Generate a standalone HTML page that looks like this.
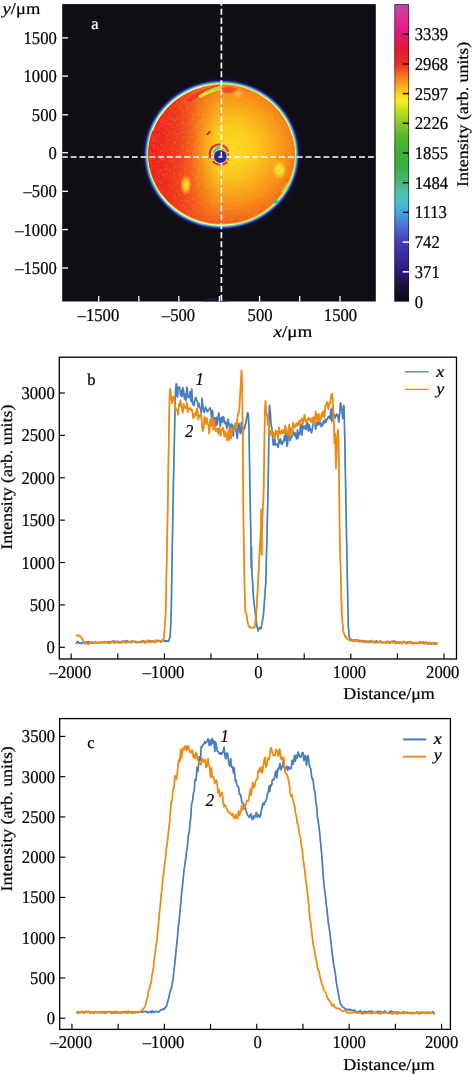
<!DOCTYPE html>
<html lang="en"><head><meta charset="utf-8"><title>Figure</title>
<style>
html,body{margin:0;padding:0;background:#fff;}
body{width:472px;height:1074px;overflow:hidden;}
svg{display:block;font-family:"Liberation Serif", "DejaVu Serif", serif;text-rendering:geometricPrecision;}
</style></head><body>
<svg width="472" height="1074" viewBox="0 0 472 1074">
<rect width="472" height="1074" fill="#fff"/>
<defs>
<radialGradient id="rim" cx="0.5" cy="0.5" r="0.5">
<stop offset="0.90" stop-color="#f03a1e"/>
<stop offset="0.932" stop-color="#f4a040"/>
<stop offset="0.942" stop-color="#f6f27a"/>
<stop offset="0.951" stop-color="#9ce45a"/>
<stop offset="0.961" stop-color="#40c8c0"/>
<stop offset="0.972" stop-color="#3c5ce0"/>
<stop offset="0.985" stop-color="#2e1c90"/>
<stop offset="1" stop-color="#1a1040" stop-opacity="0.2"/>
</radialGradient>
<radialGradient id="halo" cx="0.5" cy="0.5" r="0.5">
<stop offset="0.9" stop-color="#2a1a78" stop-opacity="0.9"/>
<stop offset="1" stop-color="#15102c" stop-opacity="0"/>
</radialGradient>
<radialGradient id="field" gradientUnits="userSpaceOnUse" cx="231" cy="149" r="80">
<stop offset="0" stop-color="#fcda28"/>
<stop offset="0.28" stop-color="#fbcc20"/>
<stop offset="0.48" stop-color="#f9ae1c"/>
<stop offset="0.66" stop-color="#f7921a"/>
<stop offset="0.82" stop-color="#f4741c"/>
<stop offset="0.94" stop-color="#f1581e"/>
<stop offset="1" stop-color="#ef4a20"/>
</radialGradient>
<linearGradient id="redL" gradientUnits="userSpaceOnUse" x1="146" y1="0" x2="218" y2="0">
<stop offset="0" stop-color="#ee1e20" stop-opacity="1"/>
<stop offset="0.25" stop-color="#ee2820" stop-opacity="0.98"/>
<stop offset="0.45" stop-color="#ef381e" stop-opacity="0.95"/>
<stop offset="0.64" stop-color="#f0481e" stop-opacity="0.72"/>
<stop offset="0.82" stop-color="#f25a1c" stop-opacity="0.32"/>
<stop offset="1" stop-color="#f2601c" stop-opacity="0"/>
</linearGradient>
<filter id="grain" x="0" y="0" width="1" height="1" color-interpolation-filters="sRGB">
<feTurbulence type="fractalNoise" baseFrequency="0.38" numOctaves="2" seed="7" result="n"/>
<feColorMatrix in="n" type="matrix" values="0 0 0 0 1  0 0 0 0 0.85  0 0 0 0 0.1  1.6 0 0 0 -0.72"/>
</filter>
<radialGradient id="spotY"><stop offset="0" stop-color="#fbea3a"/><stop offset="0.5" stop-color="#fad02a" stop-opacity="0.8"/><stop offset="1" stop-color="#f9b020" stop-opacity="0"/></radialGradient>
<radialGradient id="spotG"><stop offset="0" stop-color="#c8e83a"/><stop offset="0.4" stop-color="#f6e634" stop-opacity="0.9"/><stop offset="1" stop-color="#f9b020" stop-opacity="0"/></radialGradient>
<radialGradient id="spotP"><stop offset="0" stop-color="#fbc85a"/><stop offset="1" stop-color="#f8a030" stop-opacity="0"/></radialGradient>
<radialGradient id="hole"><stop offset="0" stop-color="#2a1e8c"/><stop offset="0.60" stop-color="#30249a"/><stop offset="0.70" stop-color="#3a6fe0"/><stop offset="0.78" stop-color="#58d070"/><stop offset="0.86" stop-color="#f0e040"/><stop offset="0.93" stop-color="#f04028"/><stop offset="1" stop-color="#f04028" stop-opacity="0"/></radialGradient>
<linearGradient id="cbar" x1="0" y1="1" x2="0" y2="0">
<stop offset="0.005" stop-color="#0c0a10"/>
<stop offset="0.043" stop-color="#1a1030"/>
<stop offset="0.102" stop-color="#2e1a78"/>
<stop offset="0.14" stop-color="#3a2496"/>
<stop offset="0.199" stop-color="#4040b8"/>
<stop offset="0.237" stop-color="#4a60c8"/>
<stop offset="0.276" stop-color="#4888d8"/>
<stop offset="0.296" stop-color="#40a8e0"/>
<stop offset="0.335" stop-color="#48c0d0"/>
<stop offset="0.373" stop-color="#50c0a0"/>
<stop offset="0.402" stop-color="#48b878"/>
<stop offset="0.451" stop-color="#38b040"/>
<stop offset="0.504" stop-color="#3cb030"/>
<stop offset="0.558" stop-color="#58b828"/>
<stop offset="0.601" stop-color="#90c828"/>
<stop offset="0.645" stop-color="#c8e020"/>
<stop offset="0.674" stop-color="#f4f020"/>
<stop offset="0.701" stop-color="#fcd020"/>
<stop offset="0.732" stop-color="#f8a020"/>
<stop offset="0.772" stop-color="#f06020"/>
<stop offset="0.799" stop-color="#e83020"/>
<stop offset="0.849" stop-color="#e01838"/>
<stop offset="0.899" stop-color="#e01870"/>
<stop offset="0.946" stop-color="#e02898"/>
<stop offset="0.994" stop-color="#c048a0"/>
</linearGradient>
<clipPath id="clipA"><rect x="62.2" y="4.1" width="313.6" height="297.4"/></clipPath>
<clipPath id="clipD"><ellipse cx="221.6" cy="154" rx="73.4" ry="68.9"/></clipPath>
</defs>
<rect x="62.2" y="4.1" width="313.60" height="297.40" fill="#100e15"/>
<g clip-path="url(#clipA)">
<ellipse cx="214" cy="301.5" rx="13" ry="3.5" fill="#1c1550" opacity="0.7"/>
<ellipse cx="221.6" cy="154.5" rx="81" ry="78" fill="url(#halo)"/>
<ellipse cx="221.6" cy="154.5" rx="78.2" ry="75" fill="url(#rim)"/>
<ellipse cx="221.6" cy="154" rx="73.2" ry="68.7" fill="url(#field)"/>
<g clip-path="url(#clipD)">
<rect x="146" y="84" width="152" height="142" fill="url(#redL)"/>
<rect x="146" y="84" width="152" height="142" filter="url(#grain)" opacity="0.38"/>
<path d="M186,100 Q203,88 221,84 L221,88 Q205,91 190,102 Z" fill="#ee2c2a" opacity="0.8"/>
<path d="M198,96 Q209,88.6 221.5,85.6 L221.5,89.6 Q210,92.2 200.5,98 Z" fill="#ece838"/>
<path d="M205,91.8 Q213,88.2 221,86.6 L221,88.6 Q213,90 206.5,93.2 Z" fill="#9fdc40"/>
<ellipse cx="229" cy="90" rx="8" ry="3" fill="#ee3a24" opacity="0.75"/>
<ellipse cx="238" cy="94" rx="7.5" ry="5.5" fill="url(#spotP)"/>
<ellipse cx="186" cy="185" rx="6" ry="10.5" fill="url(#spotY)"/>
<ellipse cx="279.5" cy="170" rx="8" ry="10.5" fill="url(#spotG)"/>
<path d="M282,192 Q286,187 288,183" stroke="#b8e040" stroke-width="2" fill="none" opacity="0.9"/>
</g>
<ellipse cx="275.5" cy="201.5" rx="2.6" ry="2" fill="#44c46a"/>
<path d="M152.4,130.4 A73.6,70.6 0 0 1 202.5,86.3" stroke="#fffef0" stroke-width="1.3" fill="none" opacity="0.75"/>
<path d="M161.3,195 A73.6,70.6 0 0 0 234.4,224" stroke="#fffef0" stroke-width="1.1" fill="none" opacity="0.7"/>
<path d="M258.4,93.4 A73.6,70.6 0 0 1 292.7,136.2" stroke="#fffef0" stroke-width="1.0" fill="none" opacity="0.5"/>
<path d="M207.2,134.3 L209.8,131.8" stroke="#c8141e" stroke-width="1.6" stroke-linecap="round"/>
<path d="M210.3,157.5 Q208.6,150.5 213,146.6 Q216.5,144 220.6,144.3" stroke="#e8243c" stroke-width="2.1" fill="none" stroke-linecap="round"/>
<path d="M222.8,145.4 Q226.6,147 228,151" stroke="#ea2a50" stroke-width="1.9" fill="none" stroke-linecap="round"/>
<path d="M228.4,153.5 Q229.2,157 228.2,160" stroke="#f0602a" stroke-width="1.2" fill="none" stroke-linecap="round"/>
<path d="M213.6,162 Q219.5,167 226.6,162.6" stroke="#ea2a3c" stroke-width="2" fill="none" stroke-linecap="round"/>
<circle cx="220.3" cy="156.4" r="8.2" fill="url(#hole)"/>
<path d="M212.6,153.5 Q212.8,149.6 215.8,147.6" stroke="#ece44a" stroke-width="1.8" fill="none" stroke-linecap="round"/>
<path d="M213.8,151.8 Q215,148.6 218.6,147.2" stroke="#40c4e4" stroke-width="2.2" fill="none" stroke-linecap="round"/>
<path d="M216.2,147.9 Q218.6,146.4 221.4,146.6" stroke="#66d658" stroke-width="2" fill="none" stroke-linecap="round"/>
<circle cx="219.4" cy="162.6" r="1" fill="#48c8e8"/>
<line x1="62.2" y1="156.9" x2="214" y2="156.9" stroke="#fff" stroke-width="1.5" stroke-dasharray="5.9 2.85" stroke-dashoffset="0.3"/>
<line x1="225.55" y1="156.9" x2="375.8" y2="156.9" stroke="#fff" stroke-width="1.5" stroke-dasharray="6 2.9"/>
<line x1="221.4" y1="-0.15" x2="221.4" y2="301.5" stroke="#fff" stroke-width="1.7" stroke-dasharray="6 2.94"/>
<circle cx="220.4" cy="156.7" r="6.2" fill="#2d2296"/>
<path d="M221.3,151.8 V157.4 M218.4,157 H222.6" stroke="#fff" stroke-width="1.35" fill="none"/>
</g>
<line x1="98.7" y1="301.5" x2="98.7" y2="296.0" stroke="#fff" stroke-width="1.3"/>
<line x1="138.8" y1="301.5" x2="138.8" y2="296.0" stroke="#fff" stroke-width="1.3"/>
<line x1="178.8" y1="301.5" x2="178.8" y2="296.0" stroke="#fff" stroke-width="1.3"/>
<line x1="219.4" y1="301.5" x2="219.4" y2="296.0" stroke="#fff" stroke-width="1.3"/>
<line x1="259.6" y1="301.5" x2="259.6" y2="296.0" stroke="#fff" stroke-width="1.3"/>
<line x1="299.7" y1="301.5" x2="299.7" y2="296.0" stroke="#fff" stroke-width="1.3"/>
<line x1="340.0" y1="301.5" x2="340.0" y2="296.0" stroke="#fff" stroke-width="1.3"/>
<line x1="62.2" y1="37.9" x2="68.0" y2="37.9" stroke="#fff" stroke-width="1.3"/>
<text transform="translate(56.80,43.80) scale(0.925,1)" font-size="18.0" text-anchor="end" fill="#000" stroke="#000" stroke-width="0.22">1500</text>
<line x1="62.2" y1="76.1" x2="68.0" y2="76.1" stroke="#fff" stroke-width="1.3"/>
<text transform="translate(56.80,82.00) scale(0.925,1)" font-size="18.0" text-anchor="end" fill="#000" stroke="#000" stroke-width="0.22">1000</text>
<line x1="62.2" y1="114.8" x2="68.0" y2="114.8" stroke="#fff" stroke-width="1.3"/>
<text transform="translate(56.80,120.70) scale(0.925,1)" font-size="18.0" text-anchor="end" fill="#000" stroke="#000" stroke-width="0.22">500</text>
<line x1="62.2" y1="152.7" x2="68.0" y2="152.7" stroke="#fff" stroke-width="1.3"/>
<text transform="translate(56.80,158.60) scale(0.925,1)" font-size="18.0" text-anchor="end" fill="#000" stroke="#000" stroke-width="0.22">0</text>
<line x1="62.2" y1="191.3" x2="68.0" y2="191.3" stroke="#fff" stroke-width="1.3"/>
<text transform="translate(56.80,197.20) scale(0.925,1)" font-size="18.0" text-anchor="end" fill="#000" stroke="#000" stroke-width="0.22">–500</text>
<line x1="62.2" y1="229.6" x2="68.0" y2="229.6" stroke="#fff" stroke-width="1.3"/>
<text transform="translate(56.80,235.50) scale(0.925,1)" font-size="18.0" text-anchor="end" fill="#000" stroke="#000" stroke-width="0.22">–1000</text>
<line x1="62.2" y1="268.0" x2="68.0" y2="268.0" stroke="#fff" stroke-width="1.3"/>
<text transform="translate(56.80,273.90) scale(0.925,1)" font-size="18.0" text-anchor="end" fill="#000" stroke="#000" stroke-width="0.22">–1500</text>
<text transform="translate(98.40,321.00) scale(0.925,1)" font-size="18.0" text-anchor="middle" fill="#000" stroke="#000" stroke-width="0.22">–1500</text>
<text transform="translate(178.50,321.00) scale(0.925,1)" font-size="18.0" text-anchor="middle" fill="#000" stroke="#000" stroke-width="0.22">–500</text>
<text transform="translate(260.10,321.00) scale(0.925,1)" font-size="18.0" text-anchor="middle" fill="#000" stroke="#000" stroke-width="0.22">500</text>
<text transform="translate(340.50,321.00) scale(0.925,1)" font-size="18.0" text-anchor="middle" fill="#000" stroke="#000" stroke-width="0.22">1500</text>
<text transform="translate(2.60,13.90) scale(1.115,1)" font-size="16.6" text-anchor="start" fill="#000" stroke="#000" stroke-width="0.22"><tspan font-style="italic">y</tspan>/μm</text>
<text transform="translate(273.50,337.20) scale(1.15,1)" font-size="16.6" text-anchor="start" fill="#000" stroke="#000" stroke-width="0.22"><tspan font-style="italic">x</tspan>/μm</text>
<text transform="translate(91.30,29.00) scale(1,1)" font-size="16.5" text-anchor="start" fill="#fff" stroke="#fff" stroke-width="0.22">a</text>
<rect x="394.4" y="4.1" width="14.6" height="297.40" fill="url(#cbar)"/>
<rect x="394.9" y="4.6" width="13.6" height="296.40" fill="none" stroke="#1a1020" stroke-opacity="0.55" stroke-width="1"/>
<text transform="translate(414.80,307.80) scale(0.925,1)" font-size="18.0" text-anchor="start" fill="#000" stroke="#000" stroke-width="0.22">0</text>
<line x1="402.8" y1="271.80" x2="409" y2="271.80" stroke="#fff" stroke-width="1.5"/>
<text transform="translate(414.80,277.70) scale(0.925,1)" font-size="18.0" text-anchor="start" fill="#000" stroke="#000" stroke-width="0.22">371</text>
<line x1="402.8" y1="242.10" x2="409" y2="242.10" stroke="#fff" stroke-width="1.5"/>
<text transform="translate(414.80,248.00) scale(0.925,1)" font-size="18.0" text-anchor="start" fill="#000" stroke="#000" stroke-width="0.22">742</text>
<line x1="402.8" y1="212.40" x2="409" y2="212.40" stroke="#111" stroke-width="1.5"/>
<text transform="translate(414.80,218.30) scale(0.925,1)" font-size="18.0" text-anchor="start" fill="#000" stroke="#000" stroke-width="0.22">1113</text>
<line x1="402.8" y1="182.70" x2="409" y2="182.70" stroke="#111" stroke-width="1.5"/>
<text transform="translate(414.80,188.60) scale(0.925,1)" font-size="18.0" text-anchor="start" fill="#000" stroke="#000" stroke-width="0.22">1484</text>
<line x1="402.8" y1="153.00" x2="409" y2="153.00" stroke="#111" stroke-width="1.5"/>
<text transform="translate(414.80,158.90) scale(0.925,1)" font-size="18.0" text-anchor="start" fill="#000" stroke="#000" stroke-width="0.22">1855</text>
<line x1="402.8" y1="123.30" x2="409" y2="123.30" stroke="#111" stroke-width="1.5"/>
<text transform="translate(414.80,129.20) scale(0.925,1)" font-size="18.0" text-anchor="start" fill="#000" stroke="#000" stroke-width="0.22">2226</text>
<line x1="402.8" y1="93.60" x2="409" y2="93.60" stroke="#111" stroke-width="1.5"/>
<text transform="translate(414.80,99.50) scale(0.925,1)" font-size="18.0" text-anchor="start" fill="#000" stroke="#000" stroke-width="0.22">2597</text>
<line x1="402.8" y1="63.90" x2="409" y2="63.90" stroke="#111" stroke-width="1.5"/>
<text transform="translate(414.80,69.80) scale(0.925,1)" font-size="18.0" text-anchor="start" fill="#000" stroke="#000" stroke-width="0.22">2968</text>
<line x1="402.8" y1="34.20" x2="409" y2="34.20" stroke="#111" stroke-width="1.5"/>
<text transform="translate(414.80,40.10) scale(0.925,1)" font-size="18.0" text-anchor="start" fill="#000" stroke="#000" stroke-width="0.22">3339</text>
<text transform="translate(467.6,114.4) rotate(-90) scale(1.115,1)" font-size="16.0" text-anchor="middle" fill="#000" stroke="#000" stroke-width="0.22">Intensity (arb. units)</text>
<polyline points="76.5,643.3 76.8,642.8 77.0,642.2 77.2,641.9 77.5,641.8 77.8,641.6 78.0,641.5 78.2,641.7 78.5,642.2 78.8,642.6 79.0,643.1 79.2,643.0 79.5,643.0 79.8,643.0 80.0,643.0 80.2,643.1 80.5,643.2 80.8,643.4 81.0,643.6 81.2,643.5 81.5,643.1 81.8,642.8 82.0,642.4 82.2,642.3 82.5,642.5 82.8,642.6 83.0,642.7 83.2,642.8 83.5,642.9 83.8,642.9 84.0,643.0 84.2,643.2 84.5,643.3 84.8,643.3 85.0,643.3 85.2,643.1 85.5,642.9 85.8,642.6 86.0,642.4 86.2,642.1 86.5,642.0 86.8,641.9 87.0,641.8 87.2,642.0 87.5,642.3 87.8,642.2 88.0,642.0 88.2,641.8 88.5,641.6 88.8,642.2 89.0,642.9 89.2,643.0 89.5,642.8 89.8,642.5 90.0,642.3 90.2,642.3 90.5,642.3 90.8,642.3 91.0,642.2 91.2,642.1 91.5,642.0 91.8,642.2 92.0,642.5 92.2,642.9 92.5,643.2 92.8,643.2 93.0,643.0 93.2,642.8 93.5,642.6 93.8,642.4 94.0,642.2 94.2,642.3 94.5,642.5 94.8,642.7 95.0,642.7 95.2,642.5 95.5,642.4 95.8,642.4 96.0,642.6 96.2,642.7 96.5,642.8 96.8,642.9 97.0,643.0 97.2,643.1 97.5,643.0 97.8,642.7 98.0,642.4 98.2,642.3 98.5,642.5 98.8,642.6 99.0,642.6 99.2,642.6 99.5,642.6 99.8,642.6 100.0,642.7 100.2,642.9 100.5,643.0 100.8,642.9 101.0,642.8 101.2,642.7 101.5,642.6 101.8,642.5 102.0,642.4 102.2,642.3 102.5,642.1 102.8,642.0 103.0,641.9 103.2,642.1 103.5,642.3 103.8,642.4 104.0,642.2 104.2,642.0 104.5,641.8 104.8,641.7 105.0,642.0 105.2,642.3 105.5,642.6 105.8,642.5 106.0,642.3 106.2,642.3 106.5,642.4 106.8,642.5 107.0,642.4 107.2,642.3 107.5,642.1 107.8,641.9 108.0,641.8 108.2,641.7 108.5,641.7 108.8,641.7 109.0,641.7 109.2,641.6 109.5,642.1 109.8,642.5 110.0,642.8 110.2,642.6 110.5,642.3 110.8,642.1 111.0,642.0 111.2,642.0 111.5,642.0 111.8,641.8 112.0,641.5 112.2,641.2 112.5,641.2 112.8,641.4 113.0,641.7 113.2,641.9 113.5,642.0 113.8,641.6 114.0,641.2 114.2,640.8 114.5,641.5 114.8,642.2 115.0,642.9 115.2,642.6 115.5,642.3 115.8,642.0 116.0,642.0 116.2,642.1 116.5,642.1 116.8,641.8 117.0,641.5 117.2,641.2 117.5,641.3 117.8,641.4 118.0,641.5 118.2,641.7 118.5,642.0 118.8,642.3 119.0,642.4 119.2,642.2 119.5,642.1 119.8,642.0 120.0,642.1 120.2,642.3 120.5,642.4 120.8,642.6 121.0,642.7 121.2,642.7 121.5,642.7 121.8,642.6 122.0,642.5 122.2,642.3 122.5,641.7 122.8,641.1 123.0,641.0 123.2,641.1 123.5,641.3 123.8,641.4 124.0,641.4 124.2,641.4 124.5,641.3 124.8,641.3 125.0,641.4 125.2,641.4 125.5,641.4 125.8,641.1 126.0,640.8 126.2,640.7 126.5,640.7 126.8,640.7 127.0,640.9 127.2,641.1 127.5,641.3 127.8,641.4 128.0,641.5 128.2,641.5 128.5,641.6 128.8,641.7 129.0,641.9 129.2,642.1 129.5,642.2 129.8,642.0 130.0,641.9 130.2,641.8 130.5,642.1 130.8,642.5 131.0,642.7 131.2,642.1 131.5,641.6 131.8,641.1 132.0,640.9 132.2,641.0 132.5,641.1 132.8,641.4 133.0,641.6 133.2,641.9 133.5,642.0 133.8,641.9 134.0,641.8 134.2,641.7 134.5,641.5 134.8,641.3 135.0,641.5 135.2,641.7 135.5,642.0 135.8,642.3 136.0,642.4 136.2,642.4 136.5,642.5 136.8,642.5 137.0,642.6 137.2,642.6 137.5,642.3 137.8,641.9 138.0,641.6 138.2,641.7 138.5,641.8 138.8,641.8 139.0,641.8 139.2,641.9 139.5,641.9 139.8,641.9 140.0,641.9 140.2,641.9 140.5,641.8 140.8,642.0 141.0,642.2 141.2,642.3 141.5,642.2 141.8,641.9 142.0,641.7 142.2,641.5 142.5,641.7 142.8,641.9 143.0,641.7 143.2,641.2 143.5,640.7 143.8,640.6 144.0,641.2 144.2,641.8 144.5,642.2 144.8,642.3 145.0,642.4 145.2,642.6 145.5,642.5 145.8,642.2 146.0,641.9 146.2,641.6 146.5,641.8 146.8,642.0 147.0,642.2 147.2,641.7 147.5,641.3 147.8,640.8 148.0,640.7 148.2,641.0 148.5,641.3 148.8,641.2 149.0,641.0 149.2,640.7 149.5,640.8 149.8,641.3 150.0,641.7 150.2,641.7 150.5,641.8 150.8,641.8 151.0,641.8 151.2,641.4 151.5,640.9 151.8,640.7 152.0,640.8 152.2,640.9 152.5,640.9 152.8,641.0 153.0,641.0 153.2,641.1 153.5,641.6 153.8,642.0 154.0,642.5 154.2,642.5 154.5,642.1 154.8,641.7 155.0,641.3 155.2,641.4 155.5,641.4 155.8,641.4 156.0,641.5 156.2,641.5 156.5,641.5 156.8,641.5 157.0,641.5 157.2,641.5 157.5,641.4 157.8,641.3 158.0,641.2 158.2,641.1 158.5,640.8 158.8,640.6 159.0,640.5 159.2,640.7 159.5,640.8 159.8,641.0 160.0,641.5 160.2,642.0 160.5,642.1 160.8,641.8 161.0,641.6 161.2,641.3 161.5,641.2 161.8,641.1 162.0,640.9 162.2,640.7 162.5,640.6 162.8,640.4 163.0,640.5 163.2,640.7 163.5,640.9 163.8,641.1 164.0,641.1 164.2,641.1 164.5,641.1 164.8,641.1 165.0,640.9 165.2,640.8 165.5,640.9 165.8,641.2 166.0,641.6 166.2,641.4 166.5,641.1 166.8,640.9 167.0,640.7 167.2,640.8 167.5,640.8 167.8,640.9 168.0,641.1 168.2,641.2 168.5,641.4 168.8,640.7 169.0,639.8 169.2,639.0 169.5,638.3 169.8,637.7 170.0,637.1 170.2,635.5 170.5,629.3 170.8,623.4 171.0,617.5 171.2,609.9 171.5,594.9 171.8,579.9 172.0,565.0 172.2,550.1 172.5,535.1 172.8,520.1 173.0,505.1 173.2,492.4 173.5,479.8 173.8,467.2 174.0,454.7 174.2,447.2 174.5,433.2 174.8,421.5 175.0,410.1 175.2,401.3 175.5,392.5 175.8,387.8 176.0,385.9 176.2,383.9 176.5,384.0 176.8,387.1 177.0,390.1 177.2,396.1 177.5,396.9 177.8,393.0 178.0,389.1 178.2,387.1 178.5,387.1 178.8,387.0 179.0,386.9 179.2,387.6 179.5,387.7 179.8,387.9 180.0,389.5 180.2,392.4 180.5,395.3 180.8,395.3 181.0,391.7 181.2,390.3 181.5,392.4 181.8,394.5 182.0,396.6 182.2,395.7 182.5,392.0 182.8,388.2 183.0,387.7 183.2,389.3 183.5,391.0 183.8,392.6 184.0,394.7 184.2,397.4 184.5,398.8 184.8,397.4 185.0,396.0 185.2,394.6 185.5,393.8 185.8,397.2 186.0,400.6 186.2,396.3 186.5,392.0 186.8,387.7 187.0,387.1 187.2,389.8 187.5,392.4 187.8,395.1 188.0,396.7 188.2,397.2 188.5,397.6 188.8,397.5 189.0,397.3 189.2,397.1 189.5,396.7 189.8,394.2 190.0,391.8 190.2,392.9 190.5,397.0 190.8,401.1 191.0,399.0 191.2,395.7 191.5,392.4 191.8,389.0 192.0,393.3 192.2,398.8 192.5,404.4 192.8,403.8 193.0,403.0 193.2,402.1 193.5,403.2 193.8,404.7 194.0,405.6 194.2,403.9 194.5,402.2 194.8,400.5 195.0,399.7 195.2,399.0 195.5,398.2 195.8,397.5 196.0,397.7 196.2,398.8 196.5,399.9 196.8,400.8 197.0,401.0 197.2,401.3 197.5,401.7 197.8,404.3 198.0,406.8 198.2,406.0 198.5,404.6 198.8,403.4 199.0,404.5 199.2,405.6 199.5,406.7 199.8,407.7 200.0,408.0 200.2,408.3 200.5,408.6 200.8,409.7 201.0,411.4 201.2,413.1 201.5,409.7 201.8,402.5 202.0,398.2 202.2,400.6 202.5,403.0 202.8,405.5 203.0,407.1 203.2,408.7 203.5,410.2 203.8,411.7 204.0,412.1 204.2,412.3 204.5,411.5 204.8,410.3 205.0,409.1 205.2,407.9 205.5,407.1 205.8,407.7 206.0,408.3 206.2,408.9 206.5,409.5 206.8,410.1 207.0,410.7 207.2,411.3 207.5,411.8 207.8,411.4 208.0,410.8 208.2,410.3 208.5,409.7 208.8,409.3 209.0,409.3 209.2,409.4 209.5,409.2 209.8,408.5 210.0,407.8 210.2,408.4 210.5,409.6 210.8,410.9 211.0,412.6 211.2,415.0 211.5,417.4 211.8,419.8 212.0,418.3 212.2,413.5 212.5,410.6 212.8,414.2 213.0,417.8 213.2,420.2 213.5,421.5 213.8,422.8 214.0,424.2 214.2,423.7 214.5,420.7 214.8,417.7 215.0,418.4 215.2,420.9 215.5,423.3 215.8,425.8 216.0,423.6 216.2,420.9 216.5,418.2 216.8,417.4 217.0,421.0 217.2,424.6 217.5,422.2 217.8,419.9 218.0,417.5 218.2,415.9 218.5,414.3 218.8,413.0 219.0,414.7 219.2,416.4 219.5,418.1 219.8,419.8 220.0,422.8 220.2,426.3 220.5,426.0 220.8,423.8 221.0,421.5 221.2,419.3 221.5,417.4 221.8,419.3 222.0,421.1 222.2,422.0 222.5,420.3 222.8,418.6 223.0,416.9 223.2,416.7 223.5,417.0 223.8,417.3 224.0,419.4 224.2,422.2 224.5,423.3 224.8,422.6 225.0,421.8 225.2,421.6 225.5,422.5 225.8,423.4 226.0,424.3 226.2,425.2 226.5,426.7 226.8,428.3 227.0,426.9 227.2,424.4 227.5,421.8 227.8,419.3 228.0,419.4 228.2,420.6 228.5,421.7 228.8,422.8 229.0,423.9 229.2,425.2 229.5,427.8 229.8,430.3 230.0,432.9 230.2,433.4 230.5,429.2 230.8,425.0 231.0,424.2 231.2,424.1 231.5,424.1 231.8,424.1 232.0,425.2 232.2,426.5 232.5,427.8 232.8,430.0 233.0,433.3 233.2,436.1 233.5,432.5 233.8,428.9 234.0,425.3 234.2,425.6 234.5,426.2 234.8,426.7 235.0,427.3 235.2,427.8 235.5,428.4 235.8,429.2 236.0,430.6 236.2,431.9 236.5,433.5 236.8,435.1 237.0,436.8 237.2,438.5 237.5,436.1 237.8,431.9 238.0,427.6 238.2,424.5 238.5,424.0 238.8,423.5 239.0,423.9 239.2,426.5 239.5,429.1 239.8,431.6 240.0,432.3 240.2,432.9 240.5,433.6 240.8,431.0 241.0,427.8 241.2,424.6 241.5,422.4 241.8,425.3 242.0,428.1 242.2,430.4 242.5,431.8 242.8,433.3 243.0,434.7 243.2,432.4 243.5,429.2 243.8,428.0 244.0,429.1 244.2,428.8 244.5,428.5 244.8,427.3 245.0,426.1 245.2,425.0 245.5,424.0 245.8,423.0 246.0,422.0 246.2,420.9 246.5,419.3 246.8,417.5 247.0,415.7 247.2,414.0 247.5,413.0 247.8,413.1 248.0,413.4 248.2,413.8 248.5,418.4 248.8,423.7 249.0,428.4 249.2,444.0 249.5,460.4 249.8,476.7 250.0,491.0 250.2,504.7 250.5,518.4 250.8,532.1 251.0,551.0 251.2,568.0 251.5,547.0 251.8,567.7 252.0,574.3 252.2,577.3 252.5,581.2 252.8,585.4 253.0,589.5 253.2,593.6 253.5,597.8 253.8,599.9 254.0,602.0 254.2,604.4 254.5,606.8 254.8,609.2 255.0,611.4 255.2,613.4 255.5,615.4 255.8,617.3 256.0,619.2 256.2,621.2 256.5,623.0 256.8,624.7 257.0,626.3 257.2,627.3 257.5,628.3 257.8,629.3 258.0,630.3 258.2,630.9 258.5,630.2 258.8,629.5 259.0,628.8 259.2,628.2 259.5,627.6 259.8,627.8 260.0,627.9 260.2,628.0 260.5,628.2 260.8,628.5 261.0,628.7 261.2,627.5 261.5,626.2 261.8,624.7 262.0,623.3 262.2,622.1 262.5,620.7 262.8,619.2 263.0,617.7 263.2,616.1 263.5,613.8 263.8,610.3 264.0,606.8 264.2,603.4 264.5,599.9 264.8,596.4 265.0,593.0 265.2,589.5 265.5,586.1 265.8,582.7 266.0,574.1 266.2,564.2 266.5,554.2 266.8,544.2 267.0,534.2 267.2,524.1 267.5,514.1 267.8,501.8 268.0,489.6 268.2,477.3 268.5,461.7 268.8,440.9 269.0,419.8 269.2,412.3 269.5,405.4 269.8,407.7 270.0,410.1 270.2,412.2 270.5,415.7 270.8,419.6 271.0,423.0 271.2,425.1 271.5,427.1 271.8,427.4 272.0,430.6 272.2,433.9 272.5,436.8 272.8,439.3 273.0,441.9 273.2,444.3 273.5,445.2 273.8,444.7 274.0,444.2 274.2,443.1 274.5,441.1 274.8,439.0 275.0,440.0 275.2,442.1 275.5,444.1 275.8,445.1 276.0,444.9 276.2,444.6 276.5,444.3 276.8,444.2 277.0,444.1 277.2,444.1 277.5,445.0 277.8,445.8 278.0,446.7 278.2,447.3 278.5,444.2 278.8,441.2 279.0,439.6 279.2,441.2 279.5,442.9 279.8,441.9 280.0,441.0 280.2,440.0 280.5,439.0 280.8,439.8 281.0,441.6 281.2,443.5 281.5,444.0 281.8,444.1 282.0,444.2 282.2,444.1 282.5,443.0 282.8,441.8 283.0,441.2 283.2,441.5 283.5,441.8 283.8,441.1 284.0,439.3 284.2,437.5 284.5,435.7 284.8,436.1 285.0,438.9 285.2,440.1 285.5,437.6 285.8,435.2 286.0,432.7 286.2,436.5 286.5,440.6 286.8,444.6 287.0,446.4 287.2,445.2 287.5,444.0 287.8,442.7 288.0,438.5 288.2,432.6 288.5,429.7 288.8,428.7 289.0,427.7 289.2,427.0 289.5,431.4 289.8,435.8 290.0,440.1 290.2,440.5 290.5,437.7 290.8,434.8 291.0,432.6 291.2,435.1 291.5,437.7 291.8,436.5 292.0,434.5 292.2,432.4 292.5,430.4 292.8,430.8 293.0,432.7 293.2,434.7 293.5,434.5 293.8,433.4 294.0,432.3 294.2,432.8 294.5,434.5 294.8,436.2 295.0,436.1 295.2,434.7 295.5,433.2 295.8,433.4 296.0,435.2 296.2,437.1 296.5,438.9 296.8,438.9 297.0,435.9 297.2,432.8 297.5,429.9 297.8,434.5 298.0,438.4 298.2,436.5 298.5,434.6 298.8,432.8 299.0,433.0 299.2,433.5 299.5,433.9 299.8,434.4 300.0,431.8 300.2,428.9 300.5,426.0 300.8,424.6 301.0,424.2 301.2,423.9 301.5,425.1 301.8,430.1 302.0,435.2 302.2,432.5 302.5,429.1 302.8,425.7 303.0,426.2 303.2,427.4 303.5,428.6 303.8,428.7 304.0,428.5 304.2,428.4 304.5,428.2 304.8,427.3 305.0,426.5 305.2,425.6 305.5,426.2 305.8,427.4 306.0,428.5 306.2,429.7 306.5,425.8 306.8,422.4 307.0,422.6 307.2,422.7 307.5,422.9 307.8,424.8 308.0,426.9 308.2,429.0 308.5,431.2 308.8,429.8 309.0,427.3 309.2,424.8 309.5,425.1 309.8,427.9 310.0,430.1 310.2,429.9 310.5,429.7 310.8,429.5 311.0,430.6 311.2,431.7 311.5,432.8 311.8,431.7 312.0,430.5 312.2,429.3 312.5,428.0 312.8,424.7 313.0,420.8 313.2,417.6 313.5,419.2 313.8,420.7 314.0,422.2 314.2,422.4 314.5,422.5 314.8,422.7 315.0,423.2 315.2,426.2 315.5,429.2 315.8,428.9 316.0,427.8 316.2,426.7 316.5,425.5 316.8,424.0 317.0,422.4 317.2,422.1 317.5,423.2 317.8,424.4 318.0,424.9 318.2,424.0 318.5,423.0 318.8,422.1 319.0,421.4 319.2,422.5 319.5,423.5 319.8,424.6 320.0,424.3 320.2,423.5 320.5,422.9 320.8,424.1 321.0,425.3 321.2,426.6 321.5,425.6 321.8,424.6 322.0,423.5 322.2,423.1 322.5,424.3 322.8,425.3 323.0,423.9 323.2,422.6 323.5,421.2 323.8,420.9 324.0,421.6 324.2,422.2 324.5,422.8 324.8,422.8 325.0,421.5 325.2,420.2 325.5,419.2 325.8,421.1 326.0,422.1 326.2,421.4 326.5,420.7 326.8,420.0 327.0,419.6 327.2,419.1 327.5,418.6 327.8,418.2 328.0,417.6 328.2,417.0 328.5,416.4 328.8,416.5 329.0,416.5 329.2,416.6 329.5,417.0 329.8,417.9 330.0,418.9 330.2,417.9 330.5,413.7 330.8,409.5 331.0,409.3 331.2,413.4 331.5,417.5 331.8,421.5 332.0,417.6 332.2,412.5 332.5,407.4 332.8,409.7 333.0,413.5 333.2,415.0 333.5,414.7 333.8,414.4 334.0,414.2 334.2,414.8 334.5,415.9 334.8,417.0 335.0,418.1 335.2,417.7 335.5,416.8 335.8,416.0 336.0,415.4 336.2,414.8 336.5,414.3 336.8,414.2 337.0,414.3 337.2,414.4 337.5,415.0 337.8,416.0 338.0,416.9 338.2,418.0 338.5,420.1 338.8,422.2 339.0,420.8 339.2,418.2 339.5,415.5 339.8,412.7 340.0,409.4 340.2,406.2 340.5,402.9 340.8,403.7 341.0,405.5 341.2,407.3 341.5,408.9 341.8,410.2 342.0,411.5 342.2,413.8 342.5,416.2 342.8,418.5 343.0,414.9 343.2,411.0 343.5,407.0 343.8,405.5 344.0,405.9 344.2,416.3 344.5,426.7 344.8,438.1 345.0,451.4 345.2,465.6 345.5,479.7 345.8,493.8 346.0,507.9 346.2,521.9 346.5,535.9 346.8,548.4 347.0,560.9 347.2,573.7 347.5,586.7 347.8,599.4 348.0,611.9 348.2,624.4 348.5,628.7 348.8,630.8 349.0,633.6 349.2,636.3 349.5,637.5 349.8,638.2 350.0,638.9 350.2,639.3 350.5,639.3 350.8,639.3 351.0,639.4 351.2,639.4 351.5,639.6 351.8,639.9 352.0,640.3 352.2,640.7 352.5,641.2 352.8,640.9 353.0,640.6 353.2,640.3 353.5,640.1 353.8,640.0 354.0,639.8 354.2,639.9 354.5,640.0 354.8,640.1 355.0,640.2 355.2,640.6 355.5,641.0 355.8,640.8 356.0,640.4 356.2,639.9 356.5,639.9 356.8,640.1 357.0,640.2 357.2,640.4 357.5,640.4 357.8,640.3 358.0,640.1 358.2,640.1 358.5,640.2 358.8,640.3 359.0,640.6 359.2,641.2 359.5,641.8 359.8,641.8 360.0,641.6 360.2,641.5 360.5,641.3 360.8,641.1 361.0,641.0 361.2,641.0 361.5,641.1 361.8,641.3 362.0,641.4 362.2,641.5 362.5,641.3 362.8,641.0 363.0,640.8 363.2,640.7 363.5,640.6 363.8,640.8 364.0,641.1 364.2,641.5 364.5,641.8 364.8,642.0 365.0,642.0 365.2,641.9 365.5,641.9 365.8,641.5 366.0,641.2 366.2,641.0 366.5,641.2 366.8,641.5 367.0,641.8 367.2,642.0 367.5,642.3 367.8,642.2 368.0,642.1 368.2,642.0 368.5,641.8 368.8,641.8 369.0,641.8 369.2,641.8 369.5,641.6 369.8,641.2 370.0,640.8 370.2,641.0 370.5,641.1 370.8,641.3 371.0,641.4 371.2,640.9 371.5,640.5 371.8,640.8 372.0,641.2 372.2,641.7 372.5,642.1 372.8,642.1 373.0,641.9 373.2,641.6 373.5,641.8 373.8,642.1 374.0,642.4 374.2,642.0 374.5,641.6 374.8,641.3 375.0,641.5 375.2,641.8 375.5,642.1 375.8,642.0 376.0,641.6 376.2,641.2 376.5,640.8 376.8,641.1 377.0,641.3 377.2,641.6 377.5,641.7 377.8,641.9 378.0,642.1 378.2,642.1 378.5,642.1 378.8,642.0 379.0,642.0 379.2,641.9 379.5,641.8 379.8,641.6 380.0,641.4 380.2,641.2 380.5,641.0 380.8,641.3 381.0,641.9 381.2,642.6 381.5,642.6 381.8,642.5 382.0,642.3 382.2,642.4 382.5,642.5 382.8,642.6 383.0,642.6 383.2,642.6 383.5,642.6 383.8,642.5 384.0,642.3 384.2,642.1 384.5,641.9 384.8,641.9 385.0,642.1 385.2,642.4 385.5,642.7 385.8,642.9 386.0,643.2 386.2,643.1 386.5,642.7 386.8,642.2 387.0,641.7 387.2,641.8 387.5,642.2 387.8,642.2 388.0,642.1 388.2,642.0 388.5,641.8 388.8,642.1 389.0,642.4 389.2,642.8 389.5,643.2 389.8,642.9 390.0,642.6 390.2,642.3 390.5,642.0 390.8,641.7 391.0,641.6 391.2,641.7 391.5,641.8 391.8,641.9 392.0,641.7 392.2,641.6 392.5,641.5 392.8,641.4 393.0,641.2 393.2,641.0 393.5,641.0 393.8,641.0 394.0,641.0 394.2,641.0 394.5,641.3 394.8,641.6 395.0,641.9 395.2,641.8 395.5,641.7 395.8,641.9 396.0,642.1 396.2,642.3 396.5,642.4 396.8,642.3 397.0,642.2 397.2,642.0 397.5,642.0 397.8,642.2 398.0,642.5 398.2,642.8 398.5,643.1 398.8,643.4 399.0,643.2 399.2,642.6 399.5,642.1 399.8,641.8 400.0,641.8 400.2,641.8 400.5,642.0 400.8,642.3 401.0,642.6 401.2,643.0 401.5,643.3 401.8,643.5 402.0,643.8 402.2,643.5 402.5,643.0 402.8,642.6 403.0,642.1 403.2,641.8 403.5,641.6 403.8,641.7 404.0,641.9 404.2,642.1 404.5,642.3 404.8,642.4 405.0,642.4 405.2,642.4 405.5,642.6 405.8,642.7 406.0,642.9 406.2,643.0 406.5,642.6 406.8,642.2 407.0,642.0 407.2,642.2 407.5,642.3 407.8,642.5 408.0,642.5 408.2,642.5 408.5,642.4 408.8,642.2 409.0,641.9 409.2,641.7 409.5,641.7 409.8,641.7 410.0,641.7 410.2,641.7 410.5,642.1 410.8,642.6 411.0,643.0 411.2,643.0 411.5,643.0 411.8,642.9 412.0,642.7 412.2,642.5 412.5,642.3 412.8,642.7 413.0,643.3 413.2,643.7 413.5,643.6 413.8,643.5 414.0,643.4 414.2,643.3 414.5,643.2 414.8,643.1 415.0,643.1 415.2,643.1 415.5,643.1 415.8,643.2 416.0,643.1 416.2,643.0 416.5,643.1 416.8,643.1 417.0,643.2 417.2,643.3 417.5,643.3 417.8,643.3 418.0,643.4 418.2,643.3 418.5,643.1 418.8,643.0 419.0,642.8 419.2,642.4 419.5,642.1 419.8,641.7 420.0,641.9 420.2,642.3 420.5,642.7 420.8,642.7 421.0,642.6 421.2,642.5 421.5,642.4 421.8,642.3 422.0,642.2 422.2,642.5 422.5,642.9 422.8,643.3 423.0,642.9 423.2,642.5 423.5,642.0 423.8,642.2 424.0,642.7 424.2,643.3 424.5,643.3 424.8,643.0 425.0,642.8 425.2,642.6 425.5,642.5 425.8,642.4 426.0,642.3 426.2,642.3 426.5,642.3 426.8,642.4 427.0,642.5 427.2,643.2 427.5,644.0 427.8,644.3 428.0,644.2 428.2,644.1 428.5,644.0 428.8,643.7 429.0,643.4 429.2,643.1 429.5,643.0 429.8,643.3 430.0,643.5 430.2,643.8 430.5,643.9 430.8,644.0 431.0,644.1 431.2,643.8 431.5,643.1 431.8,642.6 432.0,642.7 432.2,642.8 432.5,643.0 432.8,643.2 433.0,643.4 433.2,643.6 433.5,643.6 433.8,643.5 434.0,643.3 434.2,643.2 434.5,643.0 434.8,643.0 435.0,643.3 435.2,643.6 435.5,643.9 435.8,644.1 436.0,643.9 436.2,643.7 436.5,643.5 436.8,643.6 437.0,643.6" fill="none" stroke="#4a7dbd" stroke-width="1.75" stroke-linejoin="round" stroke-linecap="round"/>
<polyline points="76.5,635.5 76.8,635.5 77.0,635.5 77.2,635.6 77.5,635.6 77.8,635.5 78.0,635.5 78.2,635.5 78.5,635.7 78.8,635.9 79.0,635.8 79.2,635.5 79.5,635.3 79.8,635.4 80.0,635.8 80.2,636.1 80.5,636.9 80.8,637.2 81.0,637.3 81.2,637.5 81.5,637.8 81.8,638.1 82.0,638.5 82.2,639.0 82.5,639.5 82.8,640.0 83.0,640.6 83.2,641.1 83.5,641.6 83.8,642.0 84.0,642.2 84.2,642.3 84.5,642.2 84.8,642.2 85.0,642.2 85.2,642.3 85.5,642.4 85.8,642.8 86.0,643.3 86.2,643.8 86.5,643.5 86.8,643.2 87.0,643.2 87.2,643.3 87.5,643.4 87.8,643.4 88.0,643.6 88.2,643.9 88.5,644.1 88.8,644.1 89.0,643.8 89.2,643.5 89.5,643.1 89.8,642.7 90.0,642.4 90.2,642.7 90.5,643.0 90.8,643.2 91.0,643.1 91.2,642.8 91.5,642.5 91.8,642.5 92.0,642.8 92.2,643.0 92.5,643.3 92.8,643.4 93.0,643.3 93.2,643.2 93.5,643.2 93.8,643.3 94.0,643.3 94.2,642.9 94.5,642.5 94.8,642.2 95.0,642.1 95.2,642.0 95.5,641.8 95.8,641.7 96.0,642.0 96.2,642.6 96.5,642.9 96.8,643.0 97.0,643.0 97.2,643.1 97.5,643.0 97.8,642.8 98.0,642.7 98.2,642.6 98.5,642.5 98.8,642.5 99.0,642.4 99.2,642.4 99.5,642.4 99.8,642.4 100.0,642.4 100.2,642.3 100.5,642.3 100.8,642.4 101.0,642.6 101.2,642.8 101.5,642.7 101.8,642.1 102.0,641.7 102.2,641.9 102.5,642.1 102.8,642.2 103.0,642.4 103.2,642.6 103.5,642.8 103.8,642.8 104.0,642.6 104.2,642.5 104.5,642.4 104.8,642.4 105.0,642.3 105.2,642.2 105.5,642.2 105.8,642.2 106.0,642.2 106.2,642.3 106.5,642.5 106.8,642.7 107.0,642.7 107.2,642.8 107.5,642.8 107.8,642.8 108.0,642.4 108.2,642.0 108.5,641.6 108.8,642.0 109.0,642.6 109.2,643.3 109.5,643.5 109.8,643.2 110.0,642.8 110.2,642.6 110.5,642.5 110.8,642.4 111.0,642.2 111.2,642.0 111.5,641.7 111.8,641.7 112.0,641.8 112.2,641.8 112.5,642.0 112.8,642.2 113.0,642.4 113.2,642.7 113.5,642.7 113.8,642.6 114.0,642.5 114.2,642.2 114.5,641.8 114.8,641.4 115.0,641.2 115.2,641.3 115.5,641.5 115.8,641.6 116.0,641.7 116.2,641.9 116.5,642.0 116.8,642.0 117.0,641.8 117.2,641.6 117.5,642.0 117.8,642.4 118.0,642.8 118.2,643.2 118.5,643.1 118.8,643.0 119.0,642.8 119.2,642.5 119.5,642.0 119.8,641.7 120.0,641.5 120.2,641.3 120.5,641.4 120.8,641.6 121.0,641.9 121.2,642.1 121.5,642.1 121.8,642.0 122.0,641.9 122.2,641.9 122.5,641.8 122.8,641.8 123.0,641.7 123.2,641.5 123.5,641.4 123.8,641.5 124.0,641.8 124.2,642.0 124.5,642.3 124.8,642.4 125.0,642.1 125.2,642.1 125.5,642.2 125.8,642.4 126.0,642.5 126.2,642.7 126.5,642.6 126.8,642.5 127.0,642.3 127.2,642.1 127.5,641.9 127.8,641.7 128.0,641.8 128.2,641.9 128.5,642.0 128.8,642.0 129.0,641.7 129.2,641.6 129.5,641.7 129.8,641.8 130.0,641.9 130.2,641.9 130.5,641.7 130.8,641.5 131.0,641.4 131.2,641.6 131.5,642.1 131.8,642.0 132.0,641.4 132.2,640.9 132.5,640.8 132.8,641.2 133.0,641.5 133.2,641.9 133.5,642.0 133.8,642.0 134.0,641.9 134.2,641.8 134.5,642.0 134.8,642.2 135.0,642.1 135.2,641.7 135.5,641.3 135.8,641.4 136.0,641.5 136.2,641.7 136.5,641.9 136.8,642.0 137.0,642.1 137.2,642.1 137.5,641.9 137.8,641.8 138.0,641.7 138.2,641.8 138.5,641.8 138.8,641.8 139.0,641.8 139.2,641.8 139.5,641.8 139.8,641.7 140.0,641.7 140.2,641.6 140.5,641.5 140.8,641.4 141.0,641.4 141.2,641.4 141.5,641.2 141.8,641.0 142.0,640.9 142.2,641.2 142.5,641.5 142.8,641.8 143.0,641.7 143.2,641.7 143.5,641.6 143.8,641.7 144.0,641.9 144.2,642.2 144.5,642.5 144.8,642.1 145.0,641.6 145.2,641.2 145.5,641.5 145.8,642.0 146.0,642.4 146.2,642.4 146.5,642.3 146.8,642.2 147.0,642.1 147.2,641.5 147.5,640.8 147.8,640.2 148.0,640.6 148.2,640.9 148.5,641.3 148.8,641.6 149.0,641.9 149.2,642.1 149.5,641.9 149.8,641.6 150.0,641.4 150.2,641.5 150.5,641.6 150.8,641.7 151.0,641.8 151.2,641.8 151.5,641.9 151.8,641.8 152.0,641.4 152.2,640.9 152.5,641.0 152.8,641.2 153.0,641.4 153.2,641.5 153.5,641.4 153.8,641.3 154.0,641.2 154.2,641.3 154.5,641.5 154.8,641.7 155.0,641.9 155.2,641.3 155.5,640.5 155.8,640.0 156.0,640.3 156.2,640.6 156.5,640.9 156.8,640.8 157.0,640.7 157.2,640.5 157.5,640.6 157.8,640.8 158.0,641.0 158.2,641.1 158.5,641.2 158.8,641.3 159.0,641.3 159.2,641.2 159.5,641.2 159.8,641.1 160.0,641.0 160.2,641.0 160.5,641.0 160.8,641.2 161.0,641.3 161.2,641.4 161.5,641.3 161.8,640.9 162.0,640.4 162.2,640.0 162.5,640.2 162.8,640.3 163.0,640.0 163.2,639.6 163.5,639.2 163.8,638.8 164.0,638.3 164.2,634.3 164.5,630.3 164.8,627.0 165.0,623.3 165.2,619.7 165.5,616.0 165.8,610.5 166.0,597.6 166.2,584.8 166.5,571.9 166.8,559.0 167.0,546.1 167.2,533.1 167.5,520.2 167.8,507.2 168.0,491.3 168.2,474.5 168.5,457.8 168.8,443.9 169.0,424.4 169.2,409.5 169.5,401.5 169.8,393.4 170.0,390.5 170.2,389.0 170.5,390.8 170.8,393.4 171.0,396.2 171.2,399.1 171.5,399.5 171.8,401.7 172.0,403.2 172.2,402.5 172.5,401.9 172.8,400.4 173.0,398.6 173.2,396.9 173.5,396.5 173.8,396.7 174.0,396.8 174.2,397.8 174.5,400.1 174.8,402.4 175.0,404.7 175.2,406.9 175.5,409.1 175.8,410.0 176.0,409.8 176.2,409.5 176.5,409.4 176.8,410.0 177.0,410.5 177.2,411.0 177.5,411.7 177.8,412.8 178.0,413.9 178.2,414.7 178.5,409.7 178.8,404.7 179.0,404.0 179.2,404.7 179.5,405.4 179.8,405.1 180.0,403.4 180.2,401.8 180.5,400.2 180.8,402.2 181.0,404.1 181.2,406.0 181.5,407.2 181.8,408.3 182.0,409.4 182.2,410.5 182.5,411.6 182.8,412.7 183.0,412.0 183.2,407.9 183.5,403.9 183.8,404.0 184.0,404.8 184.2,405.5 184.5,406.3 184.8,406.9 185.0,407.6 185.2,408.1 185.5,408.2 185.8,408.2 186.0,408.3 186.2,408.3 186.5,406.6 186.8,404.6 187.0,402.6 187.2,406.0 187.5,409.6 187.8,412.3 188.0,410.7 188.2,409.2 188.5,408.6 188.8,408.7 189.0,408.8 189.2,408.9 189.5,409.0 189.8,408.6 190.0,408.3 190.2,407.9 190.5,408.7 190.8,409.6 191.0,410.5 191.2,410.4 191.5,409.8 191.8,409.4 192.0,410.3 192.2,411.2 192.5,412.6 192.8,414.9 193.0,417.2 193.2,418.4 193.5,417.2 193.8,416.0 194.0,414.8 194.2,413.9 194.5,415.1 194.8,416.3 195.0,416.1 195.2,415.9 195.5,415.6 195.8,415.3 196.0,413.6 196.2,411.8 196.5,410.1 196.8,409.1 197.0,408.7 197.2,408.2 197.5,410.4 197.8,413.6 198.0,416.8 198.2,419.5 198.5,417.9 198.8,416.4 199.0,414.9 199.2,415.6 199.5,417.1 199.8,416.8 200.0,416.4 200.2,415.9 200.5,415.3 200.8,414.6 201.0,414.0 201.2,415.1 201.5,418.7 201.8,422.4 202.0,426.0 202.2,427.6 202.5,429.0 202.8,430.4 203.0,431.0 203.2,429.7 203.5,428.4 203.8,426.5 204.0,423.0 204.2,419.4 204.5,416.3 204.8,417.5 205.0,418.6 205.2,419.8 205.5,421.3 205.8,423.0 206.0,424.1 206.2,422.1 206.5,420.2 206.8,418.2 207.0,419.7 207.2,421.2 207.5,422.7 207.8,423.6 208.0,424.3 208.2,425.0 208.5,425.7 208.8,427.5 209.0,430.5 209.2,433.6 209.5,429.4 209.8,425.2 210.0,420.9 210.2,419.4 210.5,421.6 210.8,423.8 211.0,426.0 211.2,424.6 211.5,422.0 211.8,420.2 212.0,418.9 212.2,417.6 212.5,419.8 212.8,423.5 213.0,427.2 213.2,429.6 213.5,426.3 213.8,423.0 214.0,419.7 214.2,420.7 214.5,422.9 214.8,425.1 215.0,427.4 215.2,429.2 215.5,431.0 215.8,431.2 216.0,430.8 216.2,430.3 216.5,429.9 216.8,429.4 217.0,428.9 217.2,428.4 217.5,429.3 217.8,430.9 218.0,432.6 218.2,433.7 218.5,431.1 218.8,428.6 219.0,428.2 219.2,428.1 219.5,427.9 219.8,429.2 220.0,431.4 220.2,433.6 220.5,435.8 220.8,435.1 221.0,433.5 221.2,432.0 221.5,431.2 221.8,430.5 222.0,429.7 222.2,429.0 222.5,428.5 222.8,428.1 223.0,427.6 223.2,428.9 223.5,430.2 223.8,432.1 224.0,434.3 224.2,436.4 224.5,436.3 224.8,434.6 225.0,432.9 225.2,431.4 225.5,432.2 225.8,433.0 226.0,433.8 226.2,434.8 226.5,436.7 226.8,438.6 227.0,440.1 227.2,440.2 227.5,440.3 227.8,437.9 228.0,434.2 228.2,430.5 228.5,431.7 228.8,434.4 229.0,437.1 229.2,439.9 229.5,437.9 229.8,434.6 230.0,431.2 230.2,427.9 230.5,431.4 230.8,435.7 231.0,438.3 231.2,436.3 231.5,434.4 231.8,431.6 232.0,430.3 232.2,430.6 232.5,430.9 232.8,430.3 233.0,429.7 233.2,429.1 233.5,428.5 233.8,427.5 234.0,426.6 234.2,426.2 234.5,426.1 234.8,426.0 235.0,425.9 235.2,424.5 235.5,423.0 235.8,423.6 236.0,426.0 236.2,428.3 236.5,427.1 236.8,424.4 237.0,421.7 237.2,419.0 237.5,416.7 237.8,414.6 238.0,413.1 238.2,413.5 238.5,412.9 238.8,412.8 239.0,411.1 239.2,409.0 239.5,405.9 239.8,401.2 240.0,396.8 240.2,392.6 240.5,388.4 240.8,383.8 241.0,379.3 241.2,374.7 241.5,370.4 241.8,374.4 242.0,383.8 242.2,393.1 242.5,413.4 242.8,436.4 243.0,464.1 243.2,499.2 243.5,526.1 243.8,540.7 244.0,555.3 244.2,569.9 244.5,584.5 244.8,594.4 245.0,601.2 245.2,608.0 245.5,612.3 245.8,612.8 246.0,613.3 246.2,613.8 246.5,614.4 246.8,616.2 247.0,618.0 247.2,619.9 247.5,621.7 247.8,622.4 248.0,623.3 248.2,624.3 248.5,625.1 248.8,625.7 249.0,626.2 249.2,626.7 249.5,627.4 249.8,627.4 250.0,627.4 250.2,627.4 250.5,627.5 250.8,627.5 251.0,627.6 251.2,627.6 251.5,627.7 251.8,627.7 252.0,627.8 252.2,627.9 252.5,627.9 252.8,627.9 253.0,627.8 253.2,627.7 253.5,627.6 253.8,627.4 254.0,627.1 254.2,627.2 254.5,627.4 254.8,627.0 255.0,624.9 255.2,622.6 255.5,620.2 255.8,617.8 256.0,615.5 256.2,613.2 256.5,610.0 256.8,605.7 257.0,601.4 257.2,597.2 257.5,592.6 257.8,588.0 258.0,583.5 258.2,578.9 258.5,574.0 258.8,569.0 259.0,564.0 259.2,559.1 259.5,554.2 259.8,549.2 260.0,544.6 260.2,540.1 260.5,535.5 260.8,531.0 261.0,520.9 261.2,509.4 261.5,546.4 261.8,554.6 262.0,535.4 262.2,519.1 262.5,514.6 262.8,510.1 263.0,505.5 263.2,501.1 263.5,496.6 263.8,485.2 264.0,469.1 264.2,453.1 264.5,436.5 264.8,419.9 265.0,408.4 265.2,404.7 265.5,401.0 265.8,405.2 266.0,409.3 266.2,413.1 266.5,414.2 266.8,415.4 267.0,413.5 267.2,416.8 267.5,420.1 267.8,423.4 268.0,424.8 268.2,422.4 268.5,420.1 268.8,421.7 269.0,426.6 269.2,431.4 269.5,434.8 269.8,434.9 270.0,435.0 270.2,433.9 270.5,432.3 270.8,430.8 271.0,430.8 271.2,431.3 271.5,431.8 271.8,432.4 272.0,433.1 272.2,433.8 272.5,434.5 272.8,434.6 273.0,433.4 273.2,432.1 273.5,433.4 273.8,435.0 274.0,436.2 274.2,436.7 274.5,437.3 274.8,437.8 275.0,437.7 275.2,435.3 275.5,432.8 275.8,430.4 276.0,431.6 276.2,433.0 276.5,434.3 276.8,433.2 277.0,431.5 277.2,431.9 277.5,434.5 277.8,437.2 278.0,439.3 278.2,436.3 278.5,433.4 278.8,430.4 279.0,427.4 279.2,428.7 279.5,430.0 279.8,431.4 280.0,432.2 280.2,433.0 280.5,433.8 280.8,433.8 281.0,433.4 281.2,432.8 281.5,431.9 281.8,431.1 282.0,430.2 282.2,430.5 282.5,431.9 282.8,433.3 283.0,432.6 283.2,431.4 283.5,430.3 283.8,430.6 284.0,431.9 284.2,433.1 284.5,432.0 284.8,429.4 285.0,426.9 285.2,425.7 285.5,426.5 285.8,427.2 286.0,428.0 286.2,429.5 286.5,431.0 286.8,432.5 287.0,434.0 287.2,434.3 287.5,434.6 287.8,434.9 288.0,434.8 288.2,434.7 288.5,434.6 288.8,431.3 289.0,427.9 289.2,424.4 289.5,428.5 289.8,432.6 290.0,436.6 290.2,434.2 290.5,431.9 290.8,429.5 291.0,428.4 291.2,430.6 291.5,432.8 291.8,435.0 292.0,434.1 292.2,431.6 292.5,429.0 292.8,426.2 293.0,423.3 293.2,422.5 293.5,423.8 293.8,425.2 294.0,426.6 294.2,427.9 294.5,426.9 294.8,425.6 295.0,425.2 295.2,426.0 295.5,426.9 295.8,426.3 296.0,425.3 296.2,424.3 296.5,423.2 296.8,423.2 297.0,424.4 297.2,425.6 297.5,425.5 297.8,425.3 298.0,425.0 298.2,424.0 298.5,422.9 298.8,421.9 299.0,420.9 299.2,422.0 299.5,424.3 299.8,424.8 300.0,423.1 300.2,421.5 300.5,420.6 300.8,420.5 301.0,420.4 301.2,420.3 301.5,419.4 301.8,418.4 302.0,418.5 302.2,420.3 302.5,422.1 302.8,423.9 303.0,423.5 303.2,422.6 303.5,421.7 303.8,420.8 304.0,418.6 304.2,416.3 304.5,414.8 304.8,415.8 305.0,416.8 305.2,418.0 305.5,419.3 305.8,420.5 306.0,421.8 306.2,421.6 306.5,421.2 306.8,420.9 307.0,420.6 307.2,420.5 307.5,420.5 307.8,420.5 308.0,419.5 308.2,418.4 308.5,417.4 308.8,418.1 309.0,419.2 309.2,419.7 309.5,419.6 309.8,419.4 310.0,419.3 310.2,419.2 310.5,420.1 310.8,421.3 311.0,421.7 311.2,420.4 311.5,419.1 311.8,418.4 312.0,420.1 312.2,421.8 312.5,423.5 312.8,423.1 313.0,420.7 313.2,418.2 313.5,417.2 313.8,418.1 314.0,418.9 314.2,419.9 314.5,421.7 314.8,423.6 315.0,420.7 315.2,417.6 315.5,414.5 315.8,411.6 316.0,412.6 316.2,413.5 316.5,414.5 316.8,416.2 317.0,418.9 317.2,421.3 317.5,419.1 317.8,416.8 318.0,414.9 318.2,414.5 318.5,414.2 318.8,413.9 319.0,416.2 319.2,418.8 319.5,421.4 319.8,421.8 320.0,421.4 320.2,420.9 320.5,420.4 320.8,419.0 321.0,417.7 321.2,416.3 321.5,414.9 321.8,413.4 322.0,412.7 322.2,414.1 322.5,415.6 322.8,416.6 323.0,414.9 323.2,413.0 323.5,411.1 323.8,412.7 324.0,414.9 324.2,417.0 324.5,417.0 324.8,413.4 325.0,409.7 325.2,406.2 325.5,405.8 325.8,405.4 326.0,405.0 326.2,404.6 326.5,403.7 326.8,402.8 327.0,401.9 327.2,403.8 327.5,405.7 327.8,406.7 328.0,407.5 328.2,408.3 328.5,409.1 328.8,407.0 329.0,404.9 329.2,402.8 329.5,402.4 329.8,402.8 330.0,403.2 330.2,403.5 330.5,401.4 330.8,397.7 331.0,396.7 331.2,395.7 331.5,394.8 331.8,393.9 332.0,394.1 332.2,396.0 332.5,398.0 332.8,399.8 333.0,404.3 333.2,409.5 333.5,414.6 333.8,419.7 334.0,427.2 334.2,435.3 334.5,443.7 334.8,443.0 335.0,436.1 335.2,433.5 335.5,448.1 335.8,462.4 336.0,468.4 336.2,461.4 336.5,454.4 336.8,447.7 337.0,440.5 337.2,437.5 337.5,434.9 337.8,432.3 338.0,429.7 338.2,429.8 338.5,441.3 338.8,452.9 339.0,469.4 339.2,493.3 339.5,517.2 339.8,538.0 340.0,547.2 340.2,556.4 340.5,565.7 340.8,575.0 341.0,584.3 341.2,593.6 341.5,603.1 341.8,612.8 342.0,617.0 342.2,619.7 342.5,622.3 342.8,625.0 343.0,627.7 343.2,630.4 343.5,631.7 343.8,632.6 344.0,633.3 344.2,634.1 344.5,634.8 344.8,635.6 345.0,636.5 345.2,637.1 345.5,636.9 345.8,636.7 346.0,636.4 346.2,637.0 346.5,637.6 346.8,638.1 347.0,638.4 347.2,638.7 347.5,639.0 347.8,639.2 348.0,639.3 348.2,639.4 348.5,639.5 348.8,639.7 349.0,640.1 349.2,640.3 349.5,640.3 349.8,640.2 350.0,640.1 350.2,640.1 350.5,640.3 350.8,640.5 351.0,640.6 351.2,640.6 351.5,640.7 351.8,640.7 352.0,640.6 352.2,640.5 352.5,640.3 352.8,640.1 353.0,640.0 353.2,639.8 353.5,639.8 353.8,640.4 354.0,641.0 354.2,641.0 354.5,641.0 354.8,641.0 355.0,641.0 355.2,640.9 355.5,640.9 355.8,640.8 356.0,640.9 356.2,640.9 356.5,640.9 356.8,640.9 357.0,640.8 357.2,640.6 357.5,640.5 357.8,641.0 358.0,641.4 358.2,641.4 358.5,641.4 358.8,641.4 359.0,641.5 359.2,641.6 359.5,641.7 359.8,641.7 360.0,641.6 360.2,641.5 360.5,641.4 360.8,641.1 361.0,640.7 361.2,640.4 361.5,640.5 361.8,640.6 362.0,640.6 362.2,640.8 362.5,641.0 362.8,641.1 363.0,641.3 363.2,641.7 363.5,642.2 363.8,642.4 364.0,641.9 364.2,641.4 364.5,641.4 364.8,641.6 365.0,641.8 365.2,641.9 365.5,641.8 365.8,641.7 366.0,641.6 366.2,641.6 366.5,641.7 366.8,641.7 367.0,641.8 367.2,641.8 367.5,641.8 367.8,641.6 368.0,641.4 368.2,641.1 368.5,641.2 368.8,641.3 369.0,641.5 369.2,641.7 369.5,641.9 369.8,642.1 370.0,642.3 370.2,642.5 370.5,641.8 370.8,641.1 371.0,641.1 371.2,641.3 371.5,641.5 371.8,641.6 372.0,641.7 372.2,641.8 372.5,641.9 372.8,641.9 373.0,641.9 373.2,641.9 373.5,641.9 373.8,642.0 374.0,642.0 374.2,641.8 374.5,641.6 374.8,641.4 375.0,641.3 375.2,641.9 375.5,642.5 375.8,643.1 376.0,642.8 376.2,642.5 376.5,642.4 376.8,642.4 377.0,642.4 377.2,642.5 377.5,642.5 377.8,642.6 378.0,642.6 378.2,642.3 378.5,641.9 378.8,641.7 379.0,642.0 379.2,642.2 379.5,642.4 379.8,642.3 380.0,642.1 380.2,641.9 380.5,641.7 380.8,641.8 381.0,641.9 381.2,642.0 381.5,642.1 381.8,642.3 382.0,642.5 382.2,642.6 382.5,642.6 382.8,642.7 383.0,642.7 383.2,642.5 383.5,642.3 383.8,642.1 384.0,642.0 384.2,641.9 384.5,641.9 384.8,641.9 385.0,642.0 385.2,642.0 385.5,642.3 385.8,642.7 386.0,643.0 386.2,642.9 386.5,642.7 386.8,642.4 387.0,642.0 387.2,641.5 387.5,641.0 387.8,641.4 388.0,641.9 388.2,642.3 388.5,642.8 388.8,642.9 389.0,642.9 389.2,642.8 389.5,642.6 389.8,642.2 390.0,641.7 390.2,641.6 390.5,641.6 390.8,641.5 391.0,641.5 391.2,641.7 391.5,641.8 391.8,642.0 392.0,642.3 392.2,642.6 392.5,642.6 392.8,642.5 393.0,642.3 393.2,642.1 393.5,642.0 393.8,641.7 394.0,641.5 394.2,641.5 394.5,641.9 394.8,642.4 395.0,642.9 395.2,643.2 395.5,643.5 395.8,643.5 396.0,642.9 396.2,642.4 396.5,642.1 396.8,642.3 397.0,642.5 397.2,642.6 397.5,642.5 397.8,642.5 398.0,642.4 398.2,642.4 398.5,642.4 398.8,642.4 399.0,642.4 399.2,642.3 399.5,642.2 399.8,642.2 400.0,642.4 400.2,642.5 400.5,642.7 400.8,642.8 401.0,642.9 401.2,643.1 401.5,643.1 401.8,643.1 402.0,643.0 402.2,642.9 402.5,642.4 402.8,641.9 403.0,641.4 403.2,641.5 403.5,641.7 403.8,641.9 404.0,642.0 404.2,642.2 404.5,642.3 404.8,642.5 405.0,642.7 405.2,642.9 405.5,643.0 405.8,643.1 406.0,643.2 406.2,643.3 406.5,643.5 406.8,643.6 407.0,643.7 407.2,643.6 407.5,643.5 407.8,643.5 408.0,642.8 408.2,641.8 408.5,641.8 408.8,642.0 409.0,642.3 409.2,642.5 409.5,642.8 409.8,643.0 410.0,643.3 410.2,643.3 410.5,643.3 410.8,643.2 411.0,642.9 411.2,642.7 411.5,642.4 411.8,642.5 412.0,642.7 412.2,642.9 412.5,643.1 412.8,643.2 413.0,643.2 413.2,643.2 413.5,643.1 413.8,642.9 414.0,642.8 414.2,642.7 414.5,642.6 414.8,642.5 415.0,642.5 415.2,642.9 415.5,643.4 415.8,643.3 416.0,643.0 416.2,642.7 416.5,642.4 416.8,642.5 417.0,642.7 417.2,642.9 417.5,643.2 417.8,643.4 418.0,643.6 418.2,643.7 418.5,643.4 418.8,643.2 419.0,642.9 419.2,642.6 419.5,642.2 419.8,642.1 420.0,642.5 420.2,642.8 420.5,642.8 420.8,642.6 421.0,642.5 421.2,642.4 421.5,642.5 421.8,642.6 422.0,642.7 422.2,642.7 422.5,642.8 422.8,642.8 423.0,642.9 423.2,643.2 423.5,643.4 423.8,643.5 424.0,643.6 424.2,643.7 424.5,643.8 424.8,643.5 425.0,643.1 425.2,642.8 425.5,642.5 425.8,642.5 426.0,642.5 426.2,642.6 426.5,642.7 426.8,642.9 427.0,643.2 427.2,643.6 427.5,644.0 427.8,644.1 428.0,644.0 428.2,643.8 428.5,643.6 428.8,643.2 429.0,642.7 429.2,642.5 429.5,642.7 429.8,642.9 430.0,643.1 430.2,643.1 430.5,643.0 430.8,643.0 431.0,643.0 431.2,643.1 431.5,643.2 431.8,643.3 432.0,643.3 432.2,643.4 432.5,643.4 432.8,643.4 433.0,643.4 433.2,643.5 433.5,643.5 433.8,643.6 434.0,643.7 434.2,643.8 434.5,644.2 434.8,644.6 435.0,644.3 435.2,643.9 435.5,643.4 435.8,642.9 436.0,642.8 436.2,642.7 436.5,642.8 436.8,643.1 437.0,643.4" fill="none" stroke="#f0890f" stroke-width="1.8" stroke-linejoin="round" stroke-linecap="round"/>
<rect x="59.3" y="357.2" width="397.20" height="301.80" fill="none" stroke="#000" stroke-width="1.3"/>
<line x1="71.20" y1="659.0" x2="71.20" y2="653.4" stroke="#000" stroke-width="1.15"/>
<text transform="translate(70.40,678.10) scale(0.925,1)" font-size="18.0" text-anchor="middle" fill="#000" stroke="#000" stroke-width="0.22">–2000</text>
<line x1="117.80" y1="659.0" x2="117.80" y2="653.4" stroke="#000" stroke-width="1.15"/>
<line x1="164.40" y1="659.0" x2="164.40" y2="653.4" stroke="#000" stroke-width="1.15"/>
<text transform="translate(163.60,678.10) scale(0.925,1)" font-size="18.0" text-anchor="middle" fill="#000" stroke="#000" stroke-width="0.22">–1000</text>
<line x1="211.00" y1="659.0" x2="211.00" y2="653.4" stroke="#000" stroke-width="1.15"/>
<line x1="257.60" y1="659.0" x2="257.60" y2="653.4" stroke="#000" stroke-width="1.15"/>
<text transform="translate(258.50,678.10) scale(0.925,1)" font-size="18.0" text-anchor="middle" fill="#000" stroke="#000" stroke-width="0.22">0</text>
<line x1="304.20" y1="659.0" x2="304.20" y2="653.4" stroke="#000" stroke-width="1.15"/>
<line x1="350.80" y1="659.0" x2="350.80" y2="653.4" stroke="#000" stroke-width="1.15"/>
<text transform="translate(349.50,678.10) scale(0.925,1)" font-size="18.0" text-anchor="middle" fill="#000" stroke="#000" stroke-width="0.22">1000</text>
<line x1="397.40" y1="659.0" x2="397.40" y2="653.4" stroke="#000" stroke-width="1.15"/>
<line x1="444.00" y1="659.0" x2="444.00" y2="653.4" stroke="#000" stroke-width="1.15"/>
<text transform="translate(442.70,678.10) scale(0.925,1)" font-size="18.0" text-anchor="middle" fill="#000" stroke="#000" stroke-width="0.22">2000</text>
<line x1="59.3" y1="647.30" x2="64.89999999999999" y2="647.30" stroke="#000" stroke-width="1.15"/>
<text transform="translate(54.70,653.30) scale(0.925,1)" font-size="18.0" text-anchor="end" fill="#000" stroke="#000" stroke-width="0.22">0</text>
<line x1="59.3" y1="604.91" x2="64.89999999999999" y2="604.91" stroke="#000" stroke-width="1.15"/>
<text transform="translate(54.70,610.91) scale(0.925,1)" font-size="18.0" text-anchor="end" fill="#000" stroke="#000" stroke-width="0.22">500</text>
<line x1="59.3" y1="562.53" x2="64.89999999999999" y2="562.53" stroke="#000" stroke-width="1.15"/>
<text transform="translate(54.70,568.53) scale(0.925,1)" font-size="18.0" text-anchor="end" fill="#000" stroke="#000" stroke-width="0.22">1000</text>
<line x1="59.3" y1="520.14" x2="64.89999999999999" y2="520.14" stroke="#000" stroke-width="1.15"/>
<text transform="translate(54.70,526.14) scale(0.925,1)" font-size="18.0" text-anchor="end" fill="#000" stroke="#000" stroke-width="0.22">1500</text>
<line x1="59.3" y1="477.76" x2="64.89999999999999" y2="477.76" stroke="#000" stroke-width="1.15"/>
<text transform="translate(54.70,483.76) scale(0.925,1)" font-size="18.0" text-anchor="end" fill="#000" stroke="#000" stroke-width="0.22">2000</text>
<line x1="59.3" y1="435.38" x2="64.89999999999999" y2="435.38" stroke="#000" stroke-width="1.15"/>
<text transform="translate(54.70,441.38) scale(0.925,1)" font-size="18.0" text-anchor="end" fill="#000" stroke="#000" stroke-width="0.22">2500</text>
<line x1="59.3" y1="392.99" x2="64.89999999999999" y2="392.99" stroke="#000" stroke-width="1.15"/>
<text transform="translate(54.70,398.99) scale(0.925,1)" font-size="18.0" text-anchor="end" fill="#000" stroke="#000" stroke-width="0.22">3000</text>
<line x1="404.7" y1="371.8" x2="428.8" y2="371.8" stroke="#4a7dbd" stroke-width="1.3"/>
<line x1="404.7" y1="389.4" x2="428.8" y2="389.4" stroke="#f0890f" stroke-width="1.3"/>
<text transform="translate(436.30,376.70) scale(1.085,1)" font-size="16.6" text-anchor="start" fill="#000" stroke="#000" stroke-width="0.22" font-style="italic">x</text>
<text transform="translate(436.30,394.00) scale(1.085,1)" font-size="16.6" text-anchor="start" fill="#000" stroke="#000" stroke-width="0.22" font-style="italic">y</text>
<text transform="translate(87.30,385.40) scale(1,1)" font-size="16.5" text-anchor="start" fill="#000" stroke="#000" stroke-width="0.22">b</text>
<text transform="translate(195.40,384.60) scale(0.925,1)" font-size="18.0" text-anchor="start" fill="#000" stroke="#000" stroke-width="0.22" font-style="italic">1</text>
<text transform="translate(185.00,437.00) scale(0.925,1)" font-size="18.0" text-anchor="start" fill="#000" stroke="#000" stroke-width="0.22" font-style="italic">2</text>
<text transform="translate(343.20,698.70) scale(1.085,1)" font-size="16.6" text-anchor="start" fill="#000" stroke="#000" stroke-width="0.22">Distance/μm</text>
<text transform="translate(12.1,477.2) rotate(-90) scale(1.115,1)" font-size="16.0" text-anchor="middle" fill="#000" stroke="#000" stroke-width="0.22">Intensity (arb. units)</text>
<polyline points="77.0,1012.1 77.2,1012.4 77.5,1012.7 77.8,1013.0 78.0,1013.3 78.2,1012.8 78.5,1012.3 78.8,1012.2 79.0,1012.3 79.2,1012.4 79.5,1012.6 79.8,1012.7 80.0,1012.5 80.2,1012.4 80.5,1012.3 80.8,1012.3 81.0,1012.3 81.2,1012.3 81.5,1012.2 81.8,1012.0 82.0,1011.9 82.2,1011.8 82.5,1011.8 82.8,1011.8 83.0,1011.9 83.2,1012.3 83.5,1012.7 83.8,1012.9 84.0,1012.5 84.2,1012.1 84.5,1011.7 84.8,1011.9 85.0,1012.1 85.2,1012.4 85.5,1012.3 85.8,1012.1 86.0,1012.0 86.2,1011.8 86.5,1011.7 86.8,1011.8 87.0,1012.0 87.2,1012.2 87.5,1012.2 87.8,1012.2 88.0,1012.2 88.2,1012.0 88.5,1011.8 88.8,1011.6 89.0,1011.4 89.2,1011.9 89.5,1012.5 89.8,1012.8 90.0,1012.6 90.2,1012.4 90.5,1012.2 90.8,1012.4 91.0,1012.6 91.2,1012.8 91.5,1012.8 91.8,1012.5 92.0,1012.2 92.2,1011.9 92.5,1011.9 92.8,1012.2 93.0,1012.6 93.2,1012.8 93.5,1013.0 93.8,1013.2 94.0,1013.4 94.2,1013.2 94.5,1012.8 94.8,1012.4 95.0,1012.3 95.2,1012.1 95.5,1012.0 95.8,1012.0 96.0,1012.2 96.2,1012.4 96.5,1012.5 96.8,1012.5 97.0,1012.4 97.2,1012.4 97.5,1012.3 97.8,1012.2 98.0,1012.2 98.2,1012.2 98.5,1012.2 98.8,1012.2 99.0,1012.2 99.2,1012.1 99.5,1012.1 99.8,1012.0 100.0,1012.0 100.2,1012.0 100.5,1012.2 100.8,1012.3 101.0,1012.5 101.2,1012.3 101.5,1012.1 101.8,1012.0 102.0,1011.9 102.2,1011.8 102.5,1012.0 102.8,1012.2 103.0,1012.5 103.2,1012.7 103.5,1012.6 103.8,1012.4 104.0,1012.3 104.2,1012.2 104.5,1012.5 104.8,1012.8 105.0,1013.2 105.2,1013.3 105.5,1012.6 105.8,1012.1 106.0,1012.0 106.2,1012.0 106.5,1011.9 106.8,1011.9 107.0,1011.9 107.2,1011.9 107.5,1012.0 107.8,1012.1 108.0,1012.2 108.2,1012.4 108.5,1012.4 108.8,1012.3 109.0,1012.1 109.2,1011.9 109.5,1011.8 109.8,1011.7 110.0,1011.7 110.2,1011.6 110.5,1012.0 110.8,1012.7 111.0,1013.0 111.2,1012.6 111.5,1012.3 111.8,1011.9 112.0,1011.6 112.2,1012.0 112.5,1012.5 112.8,1012.9 113.0,1013.0 113.2,1012.7 113.5,1012.5 113.8,1012.3 114.0,1011.9 114.2,1011.7 114.5,1012.1 114.8,1012.5 115.0,1012.8 115.2,1013.1 115.5,1012.9 115.8,1012.7 116.0,1012.4 116.2,1012.2 116.5,1012.0 116.8,1011.8 117.0,1011.7 117.2,1011.9 117.5,1012.0 117.8,1012.2 118.0,1012.3 118.2,1012.6 118.5,1012.8 118.8,1012.9 119.0,1012.8 119.2,1012.7 119.5,1012.6 119.8,1012.6 120.0,1012.6 120.2,1012.7 120.5,1012.8 120.8,1013.0 121.0,1013.2 121.2,1013.0 121.5,1012.7 121.8,1012.5 122.0,1012.4 122.2,1012.4 122.5,1012.4 122.8,1012.4 123.0,1012.3 123.2,1012.2 123.5,1012.2 123.8,1012.0 124.0,1011.9 124.2,1011.7 124.5,1011.6 124.8,1011.5 125.0,1011.6 125.2,1011.9 125.5,1012.1 125.8,1012.4 126.0,1012.7 126.2,1012.9 126.5,1012.9 126.8,1012.3 127.0,1011.7 127.2,1011.4 127.5,1011.9 127.8,1012.4 128.0,1012.8 128.2,1012.8 128.5,1012.7 128.8,1012.5 129.0,1012.3 129.2,1012.2 129.5,1012.0 129.8,1011.8 130.0,1011.8 130.2,1011.9 130.5,1012.1 130.8,1012.3 131.0,1012.6 131.2,1012.9 131.5,1013.1 131.8,1012.7 132.0,1012.1 132.2,1012.0 132.5,1012.2 132.8,1012.4 133.0,1012.6 133.2,1012.7 133.5,1012.8 133.8,1012.8 134.0,1012.6 134.2,1012.3 134.5,1012.0 134.8,1011.8 135.0,1011.9 135.2,1012.1 135.5,1012.3 135.8,1012.5 136.0,1012.5 136.2,1012.5 136.5,1012.4 136.8,1012.2 137.0,1012.1 137.2,1012.0 137.5,1012.1 137.8,1012.3 138.0,1012.5 138.2,1012.5 138.5,1012.3 138.8,1012.1 139.0,1012.0 139.2,1012.0 139.5,1011.9 139.8,1011.9 140.0,1011.9 140.2,1011.7 140.5,1011.6 140.8,1011.5 141.0,1011.8 141.2,1012.0 141.5,1012.2 141.8,1012.3 142.0,1012.1 142.2,1012.0 142.5,1011.9 142.8,1011.8 143.0,1011.8 143.2,1011.8 143.5,1011.7 143.8,1011.6 144.0,1011.5 144.2,1011.4 144.5,1011.4 144.8,1011.3 145.0,1011.3 145.2,1011.3 145.5,1011.4 145.8,1011.6 146.0,1011.8 146.2,1011.9 146.5,1012.1 146.8,1012.3 147.0,1012.1 147.2,1011.8 147.5,1011.5 147.8,1011.9 148.0,1012.3 148.2,1012.7 148.5,1012.5 148.8,1012.4 149.0,1012.2 149.2,1012.1 149.5,1012.0 149.8,1012.0 150.0,1011.9 150.2,1011.8 150.5,1011.6 150.8,1011.4 151.0,1011.2 151.2,1011.4 151.5,1012.1 151.8,1012.8 152.0,1012.1 152.2,1011.5 152.5,1011.0 152.8,1011.2 153.0,1011.4 153.2,1011.6 153.5,1011.8 153.8,1012.1 154.0,1012.4 154.2,1012.5 154.5,1012.3 154.8,1012.0 155.0,1011.7 155.2,1011.5 155.5,1011.4 155.8,1011.3 156.0,1011.3 156.2,1011.2 156.5,1011.3 156.8,1011.5 157.0,1011.6 157.2,1011.7 157.5,1011.9 157.8,1012.0 158.0,1012.0 158.2,1012.0 158.5,1012.0 158.8,1012.0 159.0,1011.7 159.2,1011.4 159.5,1011.1 159.8,1010.8 160.0,1010.5 160.2,1010.2 160.5,1010.0 160.8,1010.0 161.0,1009.9 161.2,1009.9 161.5,1009.9 161.8,1009.9 162.0,1009.9 162.2,1009.9 162.5,1009.5 162.8,1009.1 163.0,1008.7 163.2,1008.8 163.5,1008.9 163.8,1009.0 164.0,1009.2 164.2,1009.3 164.5,1009.2 164.8,1008.5 165.0,1007.8 165.2,1007.1 165.5,1006.8 165.8,1006.9 166.0,1006.9 166.2,1006.8 166.5,1006.2 166.8,1005.2 167.0,1004.2 167.2,1003.0 167.5,1002.4 167.8,1001.7 168.0,1000.9 168.2,999.9 168.5,999.0 168.8,998.1 169.0,997.1 169.2,995.6 169.5,994.1 169.8,992.6 170.0,991.7 170.2,991.3 170.5,990.8 170.8,990.0 171.0,989.2 171.2,988.4 171.5,987.6 171.8,986.1 172.0,984.6 172.2,983.2 172.5,981.9 172.8,980.6 173.0,978.9 173.2,976.8 173.5,974.6 173.8,972.3 174.0,970.0 174.2,968.0 174.5,965.8 174.8,963.6 175.0,961.1 175.2,958.7 175.5,956.2 175.8,953.7 176.0,951.3 176.2,948.9 176.5,946.6 176.8,944.2 177.0,942.0 177.2,939.7 177.5,937.1 177.8,933.7 178.0,930.4 178.2,927.1 178.5,925.5 178.8,924.0 179.0,922.5 179.2,919.9 179.5,916.7 179.8,913.5 180.0,910.5 180.2,908.0 180.5,905.5 180.8,903.0 181.0,900.3 181.2,897.5 181.5,894.7 181.8,891.9 182.0,890.0 182.2,888.1 182.5,885.7 182.8,883.2 183.0,880.7 183.2,878.1 183.5,875.5 183.8,873.0 184.0,870.5 184.2,868.7 184.5,867.1 184.8,865.4 185.0,863.7 185.2,862.0 185.5,860.2 185.8,858.5 186.0,856.4 186.2,854.2 186.5,851.9 186.8,849.7 187.0,848.8 187.2,848.1 187.5,845.6 187.8,842.7 188.0,839.7 188.2,836.6 188.5,835.0 188.8,834.0 189.0,832.9 189.2,831.8 189.5,829.4 189.8,826.2 190.0,823.2 190.2,821.3 190.5,819.3 190.8,817.1 191.0,813.3 191.2,809.6 191.5,805.9 191.8,803.4 192.0,802.6 192.2,801.9 192.5,800.8 192.8,798.8 193.0,796.8 193.2,794.9 193.5,793.1 193.8,792.3 194.0,791.9 194.2,790.4 194.5,786.9 194.8,783.4 195.0,779.9 195.2,779.6 195.5,779.7 195.8,779.9 196.0,780.1 196.2,778.5 196.5,775.0 196.8,771.0 197.0,767.5 197.2,768.9 197.5,770.3 197.8,771.6 198.0,769.6 198.2,767.6 198.5,765.6 198.8,763.5 199.0,759.7 199.2,756.7 199.5,757.6 199.8,758.4 200.0,759.3 200.2,760.3 200.5,760.0 200.8,754.6 201.0,749.3 201.2,746.7 201.5,746.9 201.8,747.2 202.0,746.9 202.2,746.3 202.5,745.8 202.8,745.3 203.0,744.9 203.2,744.6 203.5,744.3 203.8,744.0 204.0,743.3 204.2,742.6 204.5,742.1 204.8,741.8 205.0,742.7 205.2,743.3 205.5,743.0 205.8,742.7 206.0,742.5 206.2,742.4 206.5,742.1 206.8,741.8 207.0,741.5 207.2,740.8 207.5,740.1 207.8,739.4 208.0,738.9 208.2,739.8 208.5,740.8 208.8,742.0 209.0,743.6 209.2,745.2 209.5,745.6 209.8,744.1 210.0,742.6 210.2,741.1 210.5,740.0 210.8,741.6 211.0,743.3 211.2,744.8 211.5,743.2 211.8,741.7 212.0,740.1 212.2,738.5 212.5,739.6 212.8,741.5 213.0,743.3 213.2,742.5 213.5,741.7 213.8,740.9 214.0,742.8 214.2,745.7 214.5,748.5 214.8,751.4 215.0,748.4 215.2,745.2 215.5,742.0 215.8,742.4 216.0,743.9 216.2,745.4 216.5,746.9 216.8,748.3 217.0,749.6 217.2,750.8 217.5,751.4 217.8,751.5 218.0,751.5 218.2,751.7 218.5,752.1 218.8,752.5 219.0,752.9 219.2,753.3 219.5,753.7 219.8,754.1 220.0,754.0 220.2,753.6 220.5,753.1 220.8,752.7 221.0,753.2 221.2,753.7 221.5,754.3 221.8,754.1 222.0,753.4 222.2,752.8 222.5,752.1 222.8,752.1 223.0,752.3 223.2,751.4 223.5,749.9 223.8,748.5 224.0,747.1 224.2,749.1 224.5,751.3 224.8,753.5 225.0,755.4 225.2,756.8 225.5,758.3 225.8,758.8 226.0,757.1 226.2,755.3 226.5,753.6 226.8,753.2 227.0,753.1 227.2,753.1 227.5,753.5 227.8,755.2 228.0,756.9 228.2,758.6 228.5,760.4 228.8,762.2 229.0,763.9 229.2,764.8 229.5,765.4 229.8,766.0 230.0,765.0 230.2,762.9 230.5,760.9 230.8,758.9 231.0,761.4 231.2,764.2 231.5,767.0 231.8,767.3 232.0,766.9 232.2,766.7 232.5,766.6 232.8,768.3 233.0,770.0 233.2,771.7 233.5,773.1 233.8,771.3 234.0,769.5 234.2,767.8 234.5,771.2 234.8,774.4 235.0,777.5 235.2,780.7 235.5,781.1 235.8,780.5 236.0,780.0 236.2,781.4 236.5,782.9 236.8,784.3 237.0,785.0 237.2,785.6 237.5,786.1 237.8,786.6 238.0,786.7 238.2,786.8 238.5,786.9 238.8,788.4 239.0,790.7 239.2,793.0 239.5,794.4 239.8,794.3 240.0,794.3 240.2,794.2 240.5,794.9 240.8,795.6 241.0,796.2 241.2,797.8 241.5,799.9 241.8,801.6 242.0,802.4 242.2,802.7 242.5,802.9 242.8,803.1 243.0,803.3 243.2,803.4 243.5,803.5 243.8,804.3 244.0,806.1 244.2,807.9 244.5,808.5 244.8,808.1 245.0,807.6 245.2,807.5 245.5,808.4 245.8,809.3 246.0,810.3 246.2,811.2 246.5,812.1 246.8,813.0 247.0,813.7 247.2,814.2 247.5,814.7 247.8,815.1 248.0,815.5 248.2,815.8 248.5,816.1 248.8,816.6 249.0,817.0 249.2,817.5 249.5,817.3 249.8,816.6 250.0,815.8 250.2,815.0 250.5,814.6 250.8,814.2 251.0,813.8 251.2,814.0 251.5,815.6 251.8,817.2 252.0,818.7 252.2,819.6 252.5,819.5 252.8,819.4 253.0,819.3 253.2,818.5 253.5,817.3 253.8,816.1 254.0,816.0 254.2,816.8 254.5,817.6 254.8,817.0 255.0,816.4 255.2,815.8 255.5,815.2 255.8,814.6 256.0,813.7 256.2,812.7 256.5,812.4 256.8,814.2 257.0,816.1 257.2,817.4 257.5,816.9 257.8,816.3 258.0,815.8 258.2,815.3 258.5,815.0 258.8,814.7 259.0,814.8 259.2,815.8 259.5,816.8 259.8,817.0 260.0,816.6 260.2,816.1 260.5,815.6 260.8,814.7 261.0,813.1 261.2,811.4 261.5,809.8 261.8,808.4 262.0,807.5 262.2,806.6 262.5,805.5 262.8,804.3 263.0,803.0 263.2,803.6 263.5,804.3 263.8,805.0 264.0,804.8 264.2,804.0 264.5,803.3 264.8,802.5 265.0,801.8 265.2,801.6 265.5,801.4 265.8,801.2 266.0,800.7 266.2,799.9 266.5,798.8 266.8,797.7 267.0,796.3 267.2,795.0 267.5,793.7 267.8,793.2 268.0,792.8 268.2,791.7 268.5,790.2 268.8,788.6 269.0,787.1 269.2,785.9 269.5,788.7 269.8,791.6 270.0,790.7 270.2,788.4 270.5,786.1 270.8,784.8 271.0,785.0 271.2,785.2 271.5,785.5 271.8,784.4 272.0,782.4 272.2,780.4 272.5,779.9 272.8,779.8 273.0,779.6 273.2,779.4 273.5,779.2 273.8,779.4 274.0,779.5 274.2,778.6 274.5,777.3 274.8,776.1 275.0,774.9 275.2,773.5 275.5,772.3 275.8,771.2 276.0,770.9 276.2,773.2 276.5,775.5 276.8,777.8 277.0,777.2 277.2,774.0 277.5,770.8 277.8,769.0 278.0,769.2 278.2,769.4 278.5,769.6 278.8,769.1 279.0,767.8 279.2,766.5 279.5,765.5 279.8,764.5 280.0,763.6 280.2,764.0 280.5,766.2 280.8,768.4 281.0,769.8 281.2,768.9 281.5,768.1 281.8,767.3 282.0,766.6 282.2,766.6 282.5,766.6 282.8,765.5 283.0,763.5 283.2,761.5 283.5,759.6 283.8,759.4 284.0,763.5 284.2,767.2 284.5,767.9 284.8,768.5 285.0,769.2 285.2,769.3 285.5,768.9 285.8,768.4 286.0,767.9 286.2,767.4 286.5,766.8 286.8,766.2 287.0,767.2 287.2,768.4 287.5,769.7 287.8,770.3 288.0,769.4 288.2,768.6 288.5,767.8 288.8,767.0 289.0,767.1 289.2,767.4 289.5,767.8 289.8,768.2 290.0,768.5 290.2,768.9 290.5,768.7 290.8,768.5 291.0,768.3 291.2,768.1 291.5,766.2 291.8,763.2 292.0,760.3 292.2,760.3 292.5,761.7 292.8,763.2 293.0,764.2 293.2,763.0 293.5,761.8 293.8,760.6 294.0,759.3 294.2,757.7 294.5,756.1 294.8,755.5 295.0,758.4 295.2,761.2 295.5,760.8 295.8,758.3 296.0,755.7 296.2,755.3 296.5,756.1 296.8,756.9 297.0,757.8 297.2,757.8 297.5,755.9 297.8,754.1 298.0,752.3 298.2,752.2 298.5,753.2 298.8,754.2 299.0,755.1 299.2,755.7 299.5,756.4 299.8,756.7 300.0,756.9 300.2,757.1 300.5,757.3 300.8,757.0 301.0,756.3 301.2,755.7 301.5,755.0 301.8,754.3 302.0,753.5 302.2,752.9 302.5,752.8 302.8,752.7 303.0,752.6 303.2,754.8 303.5,757.2 303.8,759.6 304.0,760.7 304.2,759.0 304.5,757.3 304.8,755.6 305.0,755.5 305.2,756.1 305.5,756.8 305.8,757.5 306.0,759.4 306.2,762.4 306.5,765.5 306.8,763.6 307.0,760.9 307.2,758.2 307.5,755.6 307.8,755.6 308.0,755.9 308.2,756.2 308.5,758.1 308.8,760.1 309.0,762.1 309.2,763.8 309.5,765.4 309.8,767.1 310.0,767.8 310.2,768.0 310.5,768.3 310.8,769.0 311.0,771.0 311.2,773.0 311.5,775.1 311.8,776.9 312.0,777.9 312.2,779.0 312.5,779.3 312.8,779.2 313.0,779.3 313.2,780.5 313.5,783.4 313.8,786.3 314.0,789.3 314.2,789.9 314.5,790.3 314.8,790.7 315.0,791.0 315.2,793.8 315.5,797.6 315.8,801.4 316.0,802.7 316.2,804.1 316.5,805.6 316.8,808.3 317.0,811.5 317.2,814.8 317.5,818.0 317.8,819.3 318.0,820.5 318.2,821.8 318.5,823.4 318.8,825.1 319.0,826.8 319.2,828.6 319.5,831.2 319.8,833.7 320.0,836.3 320.2,839.1 320.5,841.6 320.8,844.2 321.0,847.0 321.2,849.6 321.5,852.4 321.8,855.2 322.0,858.9 322.2,862.0 322.5,865.2 322.8,869.0 323.0,872.7 323.2,876.3 323.5,879.4 323.8,882.1 324.0,884.8 324.2,887.1 324.5,888.9 324.8,890.7 325.0,892.4 325.2,894.9 325.5,897.2 325.8,899.6 326.0,901.9 326.2,904.1 326.5,906.1 326.8,908.1 327.0,910.0 327.2,912.5 327.5,915.0 327.8,917.5 328.0,919.8 328.2,921.9 328.5,923.8 328.8,925.2 329.0,926.5 329.2,927.9 329.5,929.6 329.8,931.8 330.0,934.0 330.2,936.2 330.5,938.4 330.8,940.4 331.0,942.3 331.2,944.5 331.5,946.7 331.8,949.0 332.0,951.2 332.2,953.3 332.5,955.4 332.8,957.5 333.0,959.6 333.2,961.6 333.5,963.5 333.8,964.9 334.0,966.2 334.2,967.6 334.5,968.9 334.8,970.4 335.0,971.9 335.2,973.4 335.5,975.1 335.8,977.3 336.0,979.6 336.2,981.6 336.5,983.2 336.8,984.7 337.0,986.3 337.2,987.5 337.5,988.7 337.8,989.8 338.0,991.2 338.2,992.9 338.5,994.5 338.8,996.0 339.0,997.3 339.2,998.6 339.5,999.7 339.8,1000.9 340.0,1001.9 340.2,1002.8 340.5,1003.7 340.8,1004.3 341.0,1004.3 341.2,1004.8 341.5,1005.2 341.8,1005.7 342.0,1006.3 342.2,1006.6 342.5,1006.9 342.8,1007.1 343.0,1007.2 343.2,1007.4 343.5,1007.3 343.8,1007.3 344.0,1007.5 344.2,1008.0 344.5,1008.6 344.8,1008.8 345.0,1008.9 345.2,1009.0 345.5,1009.1 345.8,1009.4 346.0,1009.6 346.2,1009.9 346.5,1010.0 346.8,1009.6 347.0,1009.2 347.2,1009.1 347.5,1009.2 347.8,1009.3 348.0,1009.4 348.2,1009.6 348.5,1009.8 348.8,1010.0 349.0,1010.1 349.2,1009.9 349.5,1009.7 349.8,1009.5 350.0,1009.3 350.2,1009.6 350.5,1009.9 350.8,1010.2 351.0,1010.2 351.2,1010.2 351.5,1010.2 351.8,1010.3 352.0,1010.3 352.2,1010.4 352.5,1010.4 352.8,1010.5 353.0,1010.5 353.2,1010.6 353.5,1010.6 353.8,1010.3 354.0,1010.0 354.2,1009.8 354.5,1010.4 354.8,1011.0 355.0,1011.1 355.2,1011.1 355.5,1011.2 355.8,1011.2 356.0,1011.3 356.2,1011.6 356.5,1011.8 356.8,1012.0 357.0,1012.1 357.2,1012.2 357.5,1012.3 357.8,1012.2 358.0,1012.1 358.2,1011.9 358.5,1011.8 358.8,1011.9 359.0,1012.0 359.2,1012.1 359.5,1011.7 359.8,1011.2 360.0,1010.7 360.2,1010.6 360.5,1011.0 360.8,1011.5 361.0,1011.9 361.2,1012.1 361.5,1012.2 361.8,1012.3 362.0,1012.3 362.2,1012.2 362.5,1012.2 362.8,1012.1 363.0,1012.0 363.2,1011.9 363.5,1011.8 363.8,1011.7 364.0,1011.6 364.2,1011.5 364.5,1011.5 364.8,1011.5 365.0,1011.6 365.2,1011.6 365.5,1011.6 365.8,1011.7 366.0,1011.8 366.2,1011.9 366.5,1011.9 366.8,1012.0 367.0,1012.0 367.2,1012.1 367.5,1012.1 367.8,1012.1 368.0,1012.0 368.2,1011.9 368.5,1011.7 368.8,1011.6 369.0,1011.4 369.2,1011.3 369.5,1011.2 369.8,1011.7 370.0,1012.2 370.2,1012.7 370.5,1012.6 370.8,1012.2 371.0,1011.9 371.2,1011.5 371.5,1011.2 371.8,1010.9 372.0,1010.9 372.2,1011.4 372.5,1011.9 372.8,1012.4 373.0,1012.7 373.2,1012.6 373.5,1012.6 373.8,1012.5 374.0,1012.4 374.2,1012.2 374.5,1012.1 374.8,1012.2 375.0,1012.4 375.2,1012.5 375.5,1012.4 375.8,1012.4 376.0,1012.3 376.2,1012.2 376.5,1012.0 376.8,1011.8 377.0,1011.6 377.2,1011.7 377.5,1011.9 377.8,1012.1 378.0,1012.0 378.2,1011.8 378.5,1011.6 378.8,1011.5 379.0,1011.4 379.2,1011.6 379.5,1011.7 379.8,1011.7 380.0,1011.7 380.2,1011.6 380.5,1011.6 380.8,1011.8 381.0,1012.0 381.2,1012.2 381.5,1012.3 381.8,1012.5 382.0,1012.6 382.2,1012.6 382.5,1012.4 382.8,1012.2 383.0,1011.9 383.2,1011.9 383.5,1012.1 383.8,1012.3 384.0,1012.2 384.2,1011.8 384.5,1011.4 384.8,1011.0 385.0,1011.2 385.2,1011.4 385.5,1011.6 385.8,1011.9 386.0,1012.1 386.2,1012.4 386.5,1012.5 386.8,1012.6 387.0,1012.7 387.2,1012.8 387.5,1012.8 387.8,1012.8 388.0,1012.8 388.2,1012.8 388.5,1012.8 388.8,1012.8 389.0,1012.7 389.2,1012.2 389.5,1011.8 389.8,1011.4 390.0,1011.6 390.2,1011.8 390.5,1012.0 390.8,1011.8 391.0,1011.5 391.2,1011.3 391.5,1011.2 391.8,1011.5 392.0,1011.9 392.2,1012.2 392.5,1012.3 392.8,1012.4 393.0,1012.4 393.2,1012.5 393.5,1012.4 393.8,1012.3 394.0,1012.2 394.2,1012.2 394.5,1012.1 394.8,1012.0 395.0,1011.9 395.2,1012.0 395.5,1012.3 395.8,1012.5 396.0,1012.7 396.2,1012.7 396.5,1012.7 396.8,1012.7 397.0,1012.6 397.2,1012.6 397.5,1012.5 397.8,1012.5 398.0,1012.3 398.2,1012.2 398.5,1012.2 398.8,1012.3 399.0,1012.4 399.2,1012.5 399.5,1012.5 399.8,1012.5 400.0,1012.6 400.2,1012.6 400.5,1012.6 400.8,1012.6 401.0,1012.7 401.2,1012.7 401.5,1012.8 401.8,1012.9 402.0,1012.7 402.2,1012.6 402.5,1012.5 402.8,1012.4 403.0,1012.1 403.2,1011.9 403.5,1011.7 403.8,1011.9 404.0,1012.1 404.2,1012.3 404.5,1012.4 404.8,1012.5 405.0,1012.6 405.2,1012.7 405.5,1012.6 405.8,1012.4 406.0,1012.4 406.2,1012.5 406.5,1012.6 406.8,1012.7 407.0,1012.5 407.2,1012.4 407.5,1012.3 407.8,1012.3 408.0,1012.8 408.2,1013.2 408.5,1013.2 408.8,1013.1 409.0,1013.0 409.2,1012.9 409.5,1012.8 409.8,1012.8 410.0,1012.7 410.2,1012.7 410.5,1012.8 410.8,1012.9 411.0,1013.0 411.2,1013.0 411.5,1013.0 411.8,1013.0 412.0,1013.0 412.2,1012.9 412.5,1012.8 412.8,1012.7 413.0,1012.7 413.2,1012.9 413.5,1013.0 413.8,1013.2 414.0,1013.1 414.2,1013.0 414.5,1013.0 414.8,1012.9 415.0,1012.8 415.2,1012.7 415.5,1012.7 415.8,1012.7 416.0,1012.7 416.2,1012.7 416.5,1012.5 416.8,1012.2 417.0,1012.1 417.2,1012.2 417.5,1012.4 417.8,1012.6 418.0,1012.7 418.2,1012.8 418.5,1012.8 418.8,1012.7 419.0,1012.6 419.2,1012.4 419.5,1012.3 419.8,1012.4 420.0,1012.7 420.2,1013.0 420.5,1013.3 420.8,1013.1 421.0,1012.8 421.2,1012.6 421.5,1012.4 421.8,1012.3 422.0,1012.1 422.2,1012.2 422.5,1012.3 422.8,1012.4 423.0,1012.5 423.2,1012.6 423.5,1012.7 423.8,1012.7 424.0,1012.7 424.2,1012.7 424.5,1012.7 424.8,1012.6 425.0,1012.5 425.2,1012.5 425.5,1012.4 425.8,1012.4 426.0,1012.6 426.2,1012.7 426.5,1012.5 426.8,1012.2 427.0,1012.0 427.2,1012.0 427.5,1012.2 427.8,1012.3 428.0,1012.4 428.2,1012.5 428.5,1012.7 428.8,1012.9 429.0,1012.9 429.2,1012.7 429.5,1012.6 429.8,1012.4 430.0,1012.6 430.2,1012.8 430.5,1013.0 430.8,1013.1 431.0,1013.2 431.2,1013.2 431.5,1013.2 431.8,1013.0 432.0,1012.7 432.2,1012.4 432.5,1012.1 432.8,1011.9 433.0,1011.6 433.2,1012.0 433.5,1012.4 433.8,1012.9 434.0,1013.3 434.2,1013.4" fill="none" stroke="#4a7dbd" stroke-width="1.75" stroke-linejoin="round" stroke-linecap="round"/>
<polyline points="77.0,1012.3 77.2,1012.3 77.5,1012.2 77.8,1012.2 78.0,1012.1 78.2,1012.4 78.5,1012.7 78.8,1013.0 79.0,1012.9 79.2,1012.5 79.5,1012.1 79.8,1012.0 80.0,1012.0 80.2,1012.0 80.5,1012.1 80.8,1012.1 81.0,1012.2 81.2,1012.0 81.5,1011.8 81.8,1011.5 82.0,1011.3 82.2,1011.6 82.5,1012.0 82.8,1012.5 83.0,1012.8 83.2,1012.5 83.5,1012.2 83.8,1011.9 84.0,1012.0 84.2,1012.1 84.5,1012.3 84.8,1012.3 85.0,1012.1 85.2,1011.8 85.5,1011.6 85.8,1011.5 86.0,1011.4 86.2,1011.3 86.5,1011.4 86.8,1011.6 87.0,1011.8 87.2,1012.0 87.5,1012.0 87.8,1012.0 88.0,1011.9 88.2,1012.0 88.5,1012.1 88.8,1012.2 89.0,1012.3 89.2,1012.1 89.5,1011.9 89.8,1011.8 90.0,1012.3 90.2,1012.8 90.5,1013.3 90.8,1013.0 91.0,1012.8 91.2,1012.5 91.5,1012.3 91.8,1012.0 92.0,1011.7 92.2,1011.5 92.5,1011.6 92.8,1011.8 93.0,1012.0 93.2,1012.3 93.5,1012.5 93.8,1012.8 94.0,1012.7 94.2,1012.6 94.5,1012.5 94.8,1012.3 95.0,1012.2 95.2,1011.9 95.5,1011.6 95.8,1011.6 96.0,1011.7 96.2,1011.7 96.5,1011.8 96.8,1012.1 97.0,1012.3 97.2,1012.5 97.5,1012.6 97.8,1012.7 98.0,1012.9 98.2,1012.8 98.5,1012.4 98.8,1012.1 99.0,1011.8 99.2,1011.9 99.5,1012.2 99.8,1012.5 100.0,1012.8 100.2,1012.6 100.5,1012.2 100.8,1011.7 101.0,1012.1 101.2,1012.4 101.5,1012.7 101.8,1013.1 102.0,1012.8 102.2,1012.1 102.5,1011.9 102.8,1011.7 103.0,1011.6 103.2,1011.5 103.5,1011.6 103.8,1011.7 104.0,1011.9 104.2,1012.0 104.5,1012.0 104.8,1012.0 105.0,1012.1 105.2,1012.1 105.5,1012.3 105.8,1012.4 106.0,1012.5 106.2,1012.6 106.5,1012.7 106.8,1012.7 107.0,1012.6 107.2,1012.5 107.5,1012.5 107.8,1012.3 108.0,1012.0 108.2,1011.7 108.5,1011.7 108.8,1011.8 109.0,1012.0 109.2,1012.1 109.5,1012.2 109.8,1012.1 110.0,1012.0 110.2,1012.0 110.5,1012.1 110.8,1012.2 111.0,1012.2 111.2,1012.1 111.5,1012.0 111.8,1012.0 112.0,1011.9 112.2,1011.9 112.5,1011.8 112.8,1011.8 113.0,1012.3 113.2,1013.1 113.5,1013.2 113.8,1012.8 114.0,1012.5 114.2,1012.2 114.5,1011.9 114.8,1011.7 115.0,1011.5 115.2,1011.3 115.5,1011.3 115.8,1011.5 116.0,1011.7 116.2,1011.9 116.5,1012.2 116.8,1012.5 117.0,1012.8 117.2,1012.7 117.5,1012.5 117.8,1012.3 118.0,1012.2 118.2,1012.0 118.5,1011.8 118.8,1011.9 119.0,1012.2 119.2,1012.6 119.5,1012.8 119.8,1013.0 120.0,1013.2 120.2,1013.3 120.5,1013.1 120.8,1012.4 121.0,1011.6 121.2,1011.6 121.5,1011.8 121.8,1012.0 122.0,1012.2 122.2,1012.3 122.5,1012.4 122.8,1012.5 123.0,1012.6 123.2,1012.7 123.5,1012.8 123.8,1012.8 124.0,1012.6 124.2,1012.5 124.5,1012.4 124.8,1012.3 125.0,1012.4 125.2,1012.5 125.5,1012.6 125.8,1012.5 126.0,1012.2 126.2,1011.8 126.5,1011.5 126.8,1012.1 127.0,1012.7 127.2,1012.7 127.5,1012.4 127.8,1012.0 128.0,1011.7 128.2,1011.5 128.5,1011.3 128.8,1011.1 129.0,1011.1 129.2,1011.5 129.5,1011.9 129.8,1012.2 130.0,1012.1 130.2,1012.1 130.5,1012.1 130.8,1011.9 131.0,1011.7 131.2,1011.6 131.5,1011.6 131.8,1011.7 132.0,1011.8 132.2,1011.9 132.5,1012.0 132.8,1012.1 133.0,1012.2 133.2,1012.2 133.5,1012.0 133.8,1011.9 134.0,1011.8 134.2,1011.7 134.5,1011.7 134.8,1011.7 135.0,1011.9 135.2,1012.1 135.5,1012.3 135.8,1012.5 136.0,1012.4 136.2,1012.4 136.5,1012.3 136.8,1012.1 137.0,1011.9 137.2,1011.7 137.5,1011.5 137.8,1011.7 138.0,1011.9 138.2,1011.9 138.5,1011.8 138.8,1011.7 139.0,1011.6 139.2,1011.7 139.5,1011.7 139.8,1011.7 140.0,1011.7 140.2,1011.7 140.5,1011.6 140.8,1011.5 141.0,1011.3 141.2,1011.2 141.5,1011.0 141.8,1010.7 142.0,1010.3 142.2,1009.8 142.5,1009.4 142.8,1009.3 143.0,1009.2 143.2,1009.1 143.5,1008.9 143.8,1008.5 144.0,1008.0 144.2,1007.5 144.5,1007.2 144.8,1006.9 145.0,1006.6 145.2,1005.9 145.5,1005.0 145.8,1004.2 146.0,1003.1 146.2,1002.0 146.5,1000.8 146.8,999.9 147.0,999.2 147.2,998.5 147.5,997.8 147.8,996.2 148.0,994.5 148.2,992.8 148.5,991.4 148.8,990.6 149.0,989.8 149.2,988.9 149.5,988.0 149.8,987.1 150.0,986.2 150.2,985.3 150.5,984.6 150.8,983.9 151.0,983.0 151.2,981.2 151.5,979.3 151.8,977.4 152.0,975.4 152.2,974.2 152.5,972.9 152.8,971.6 153.0,970.2 153.2,968.7 153.5,966.7 153.8,964.2 154.0,961.8 154.2,959.3 154.5,957.2 154.8,955.7 155.0,954.1 155.2,952.5 155.5,950.3 155.8,948.0 156.0,945.7 156.2,943.7 156.5,942.5 156.8,941.2 157.0,939.8 157.2,936.8 157.5,933.5 157.8,930.5 158.0,928.3 158.2,926.0 158.5,923.7 158.8,920.7 159.0,917.8 159.2,914.9 159.5,912.0 159.8,909.9 160.0,907.9 160.2,905.5 160.5,902.8 160.8,900.1 161.0,897.4 161.2,894.7 161.5,892.9 161.8,891.1 162.0,889.4 162.2,886.2 162.5,883.0 162.8,879.9 163.0,876.8 163.2,875.2 163.5,874.1 163.8,873.0 164.0,871.2 164.2,868.1 164.5,865.4 164.8,863.5 165.0,861.6 165.2,860.2 165.5,858.4 165.8,855.8 166.0,853.0 166.2,850.1 166.5,848.0 166.8,846.7 167.0,845.4 167.2,843.2 167.5,840.9 167.8,838.6 168.0,836.3 168.2,834.0 168.5,831.6 168.8,829.2 169.0,826.8 169.2,824.8 169.5,822.9 169.8,820.9 170.0,817.0 170.2,813.1 170.5,810.1 170.8,807.5 171.0,804.9 171.2,802.3 171.5,801.2 171.8,801.1 172.0,801.0 172.2,800.3 172.5,795.7 172.8,791.2 173.0,789.3 173.2,788.7 173.5,788.2 173.8,787.8 174.0,787.4 174.2,785.3 174.5,782.0 174.8,778.6 175.0,776.3 175.2,776.0 175.5,775.8 175.8,776.3 176.0,777.2 176.2,778.2 176.5,779.1 176.8,777.2 177.0,775.4 177.2,773.7 177.5,771.0 177.8,768.2 178.0,765.5 178.2,763.7 178.5,762.3 178.8,761.0 179.0,759.6 179.2,760.1 179.5,760.8 179.8,761.5 180.0,760.0 180.2,756.3 180.5,752.8 180.8,749.2 181.0,751.4 181.2,757.0 181.5,758.3 181.8,756.1 182.0,754.0 182.2,751.8 182.5,750.0 182.8,749.3 183.0,748.5 183.2,747.8 183.5,748.6 183.8,749.5 184.0,750.0 184.2,749.0 184.5,748.0 184.8,747.0 185.0,746.6 185.2,746.4 185.5,746.2 185.8,745.9 186.0,746.6 186.2,747.9 186.5,749.3 186.8,750.7 187.0,749.8 187.2,748.1 187.5,747.3 187.8,746.8 188.0,746.3 188.2,745.8 188.5,746.5 188.8,747.7 189.0,748.8 189.2,750.0 189.5,750.8 189.8,751.2 190.0,751.7 190.2,752.2 190.5,752.6 190.8,753.1 191.0,752.8 191.2,751.9 191.5,751.0 191.8,750.4 192.0,750.2 192.2,750.0 192.5,750.7 192.8,752.9 193.0,755.0 193.2,757.2 193.5,757.2 193.8,756.4 194.0,755.6 194.2,754.9 194.5,755.6 194.8,757.0 195.0,758.4 195.2,758.5 195.5,756.5 195.8,754.4 196.0,752.4 196.2,753.0 196.5,753.7 196.8,754.5 197.0,755.8 197.2,757.1 197.5,758.4 197.8,759.8 198.0,760.5 198.2,760.8 198.5,761.1 198.8,761.4 199.0,761.8 199.2,762.2 199.5,762.7 199.8,763.2 200.0,763.6 200.2,764.1 200.5,764.4 200.8,764.5 201.0,764.6 201.2,764.4 201.5,762.0 201.8,759.7 202.0,758.4 202.2,758.8 202.5,759.2 202.8,759.7 203.0,760.4 203.2,761.1 203.5,761.8 203.8,761.4 204.0,760.7 204.2,760.1 204.5,759.7 204.8,759.7 205.0,759.7 205.2,759.7 205.5,761.9 205.8,764.8 206.0,767.6 206.2,767.3 206.5,767.0 206.8,766.8 207.0,766.2 207.2,764.0 207.5,761.7 207.8,759.5 208.0,758.7 208.2,760.6 208.5,762.5 208.8,764.4 209.0,765.3 209.2,766.1 209.5,767.0 209.8,768.9 210.0,771.7 210.2,774.4 210.5,777.1 210.8,775.5 211.0,772.8 211.2,770.1 211.5,767.9 211.8,771.8 212.0,775.7 212.2,776.8 212.5,777.1 212.8,777.3 213.0,777.5 213.2,777.4 213.5,777.3 213.8,777.2 214.0,778.3 214.2,780.0 214.5,781.8 214.8,783.5 215.0,782.8 215.2,782.1 215.5,781.4 215.8,780.8 216.0,780.2 216.2,779.9 216.5,780.8 216.8,781.7 217.0,782.6 217.2,784.5 217.5,787.2 217.8,790.0 218.0,792.7 218.2,791.7 218.5,790.7 218.8,789.7 219.0,789.7 219.2,791.8 219.5,794.0 219.8,796.2 220.0,796.7 220.2,796.1 220.5,795.4 220.8,794.7 221.0,794.1 221.2,793.4 221.5,792.8 221.8,792.4 222.0,793.1 222.2,793.8 222.5,794.6 222.8,798.0 223.0,800.1 223.2,802.3 223.5,803.7 223.8,805.2 224.0,806.5 224.2,806.0 224.5,805.4 224.8,804.8 225.0,805.2 225.2,805.7 225.5,806.2 225.8,806.6 226.0,807.2 226.2,807.8 226.5,808.4 226.8,809.0 227.0,809.5 227.2,810.1 227.5,810.5 227.8,811.0 228.0,811.4 228.2,811.8 228.5,812.1 228.8,812.2 229.0,812.3 229.2,812.3 229.5,812.6 229.8,813.0 230.0,813.4 230.2,813.5 230.5,813.6 230.8,813.7 231.0,813.9 231.2,814.3 231.5,814.7 231.8,815.2 232.0,815.0 232.2,814.5 232.5,814.0 232.8,813.5 233.0,814.8 233.2,816.1 233.5,817.0 233.8,817.7 234.0,818.3 234.2,818.3 234.5,818.1 234.8,817.8 235.0,817.5 235.2,816.4 235.5,815.4 235.8,814.3 236.0,814.9 236.2,816.0 236.5,817.1 236.8,818.2 237.0,818.3 237.2,818.5 237.5,818.6 237.8,817.8 238.0,815.7 238.2,813.5 238.5,811.4 238.8,811.0 239.0,812.4 239.2,813.7 239.5,815.1 239.8,814.8 240.0,814.2 240.2,813.3 240.5,812.3 240.8,811.3 241.0,810.2 241.2,809.1 241.5,807.3 241.8,805.4 242.0,806.4 242.2,807.6 242.5,808.8 242.8,809.8 243.0,809.7 243.2,809.6 243.5,809.5 243.8,808.9 244.0,808.4 244.2,807.9 244.5,807.5 244.8,807.1 245.0,806.8 245.2,806.3 245.5,805.8 245.8,805.3 246.0,804.8 246.2,803.6 246.5,802.4 246.8,801.1 247.0,800.3 247.2,800.6 247.5,800.9 247.8,801.2 248.0,801.1 248.2,800.8 248.5,800.4 248.8,799.4 249.0,797.7 249.2,795.9 249.5,794.4 249.8,793.0 250.0,791.5 250.2,790.1 250.5,788.7 250.8,791.0 251.0,794.5 251.2,795.3 251.5,792.9 251.8,790.5 252.0,788.1 252.2,786.3 252.5,784.4 252.8,782.7 253.0,783.9 253.2,785.2 253.5,786.4 253.8,787.4 254.0,787.1 254.2,786.9 254.5,786.6 254.8,785.6 255.0,784.3 255.2,783.0 255.5,781.7 255.8,781.0 256.0,780.4 256.2,779.8 256.5,779.6 256.8,779.6 257.0,779.6 257.2,779.6 257.5,777.8 257.8,775.3 258.0,772.3 258.2,770.5 258.5,770.9 258.8,771.4 259.0,771.9 259.2,771.0 259.5,769.5 259.8,768.0 260.0,768.6 260.2,769.4 260.5,770.3 260.8,771.1 261.0,769.9 261.2,768.5 261.5,767.1 261.8,768.6 262.0,771.5 262.2,773.0 262.5,771.3 262.8,769.5 263.0,767.8 263.2,766.1 263.5,764.5 263.8,762.8 264.0,761.1 264.2,759.7 264.5,758.9 264.8,758.0 265.0,757.2 265.2,759.9 265.5,763.0 265.8,766.1 266.0,767.1 266.2,766.7 266.5,766.3 266.8,765.2 267.0,763.5 267.2,761.9 267.5,760.3 267.8,759.1 268.0,758.1 268.2,757.8 268.5,758.2 268.8,758.7 269.0,759.3 269.2,759.1 269.5,757.1 269.8,755.2 270.0,753.4 270.2,751.6 270.5,749.9 270.8,748.1 271.0,747.7 271.2,748.4 271.5,749.1 271.8,749.9 272.0,751.0 272.2,752.0 272.5,753.1 272.8,753.8 273.0,754.3 273.2,754.9 273.5,755.1 273.8,755.0 274.0,754.9 274.2,754.9 274.5,755.2 274.8,755.4 275.0,755.7 275.2,755.5 275.5,753.0 275.8,750.5 276.0,749.3 276.2,749.8 276.5,750.3 276.8,750.8 277.0,751.2 277.2,751.6 277.5,752.2 277.8,753.2 278.0,754.2 278.2,755.2 278.5,756.2 278.8,754.2 279.0,752.1 279.2,749.9 279.5,748.9 279.8,750.0 280.0,751.0 280.2,752.5 280.5,754.6 280.8,756.7 281.0,758.8 281.2,759.1 281.5,758.3 281.8,757.5 282.0,757.5 282.2,758.7 282.5,760.1 282.8,760.8 283.0,759.1 283.2,757.4 283.5,757.3 283.8,760.1 284.0,762.9 284.2,765.8 284.5,767.7 284.8,769.3 285.0,770.8 285.2,772.3 285.5,773.0 285.8,773.2 286.0,773.4 286.2,773.6 286.5,773.9 286.8,774.3 287.0,775.0 287.2,775.7 287.5,776.4 287.8,777.0 288.0,778.2 288.2,779.4 288.5,780.6 288.8,781.8 289.0,783.0 289.2,784.2 289.5,785.4 289.8,787.6 290.0,790.4 290.2,793.2 290.5,794.4 290.8,795.1 291.0,795.8 291.2,796.3 291.5,795.9 291.8,795.5 292.0,795.1 292.2,796.5 292.5,797.9 292.8,799.3 293.0,800.4 293.2,801.3 293.5,802.3 293.8,803.3 294.0,804.1 294.2,804.8 294.5,805.5 294.8,806.4 295.0,809.1 295.2,811.7 295.5,812.7 295.8,813.5 296.0,814.3 296.2,815.7 296.5,817.6 296.8,819.5 297.0,821.4 297.2,823.2 297.5,823.6 297.8,824.0 298.0,824.6 298.2,826.1 298.5,827.7 298.8,829.2 299.0,830.8 299.2,832.6 299.5,834.5 299.8,835.3 300.0,835.9 300.2,836.5 300.5,837.3 300.8,839.7 301.0,842.3 301.2,844.9 301.5,846.5 301.8,847.3 302.0,848.2 302.2,849.1 302.5,852.3 302.8,855.5 303.0,858.4 303.2,859.9 303.5,861.6 303.8,863.4 304.0,865.1 304.2,866.9 304.5,868.7 304.8,870.6 305.0,872.8 305.2,875.2 305.5,877.6 305.8,880.1 306.0,881.9 306.2,883.5 306.5,885.1 306.8,887.0 307.0,888.9 307.2,890.9 307.5,893.1 307.8,895.5 308.0,898.1 308.2,900.7 308.5,903.3 308.8,905.9 309.0,908.5 309.2,911.4 309.5,914.3 309.8,917.1 310.0,919.1 310.2,920.7 310.5,922.2 310.8,924.1 311.0,926.2 311.2,928.2 311.5,930.2 311.8,932.1 312.0,934.3 312.2,936.5 312.5,938.7 312.8,941.0 313.0,943.3 313.2,945.2 313.5,945.9 313.8,946.6 314.0,947.4 314.2,949.1 314.5,950.8 314.8,952.4 315.0,953.9 315.2,955.3 315.5,956.7 315.8,958.2 316.0,959.6 316.2,960.4 316.5,961.1 316.8,962.4 317.0,963.9 317.2,965.4 317.5,966.8 317.8,968.0 318.0,968.9 318.2,969.8 318.5,970.7 318.8,970.9 319.0,971.1 319.2,972.1 319.5,973.8 319.8,975.6 320.0,977.3 320.2,977.9 320.5,978.4 320.8,978.8 321.0,979.9 321.2,981.2 321.5,982.6 321.8,983.9 322.0,984.4 322.2,984.7 322.5,985.1 322.8,985.4 323.0,986.4 323.2,987.8 323.5,989.1 323.8,989.7 324.0,990.0 324.2,990.3 324.5,990.8 324.8,991.2 325.0,991.5 325.2,992.0 325.5,992.4 325.8,992.9 326.0,993.4 326.2,994.0 326.5,994.8 326.8,995.6 327.0,996.4 327.2,997.2 327.5,997.9 327.8,998.5 328.0,998.7 328.2,998.9 328.5,999.1 328.8,999.5 329.0,1000.1 329.2,1000.7 329.5,1001.2 329.8,1001.5 330.0,1001.9 330.2,1002.1 330.5,1002.3 330.8,1002.4 331.0,1002.6 331.2,1003.5 331.5,1004.5 331.8,1005.5 332.0,1005.9 332.2,1005.0 332.5,1005.1 332.8,1005.3 333.0,1005.0 333.2,1004.7 333.5,1004.4 333.8,1005.0 334.0,1005.6 334.2,1006.2 334.5,1006.8 334.8,1006.9 335.0,1007.0 335.2,1007.2 335.5,1007.6 335.8,1007.9 336.0,1008.3 336.2,1008.3 336.5,1008.3 336.8,1008.3 337.0,1008.2 337.2,1008.2 337.5,1008.2 337.8,1008.3 338.0,1008.4 338.2,1008.5 338.5,1008.7 338.8,1008.8 339.0,1008.8 339.2,1008.7 339.5,1008.6 339.8,1008.8 340.0,1009.0 340.2,1009.3 340.5,1009.6 340.8,1009.9 341.0,1010.2 341.2,1010.5 341.5,1010.8 341.8,1010.9 342.0,1010.9 342.2,1010.9 342.5,1011.0 342.8,1011.2 343.0,1011.3 343.2,1011.3 343.5,1011.1 343.8,1010.9 344.0,1010.8 344.2,1010.8 344.5,1010.8 344.8,1010.8 345.0,1010.7 345.2,1010.6 345.5,1010.6 345.8,1010.5 346.0,1011.0 346.2,1011.5 346.5,1011.9 346.8,1012.2 347.0,1012.5 347.2,1012.8 347.5,1012.7 347.8,1012.6 348.0,1012.6 348.2,1012.6 348.5,1012.6 348.8,1012.5 349.0,1012.5 349.2,1012.6 349.5,1012.7 349.8,1012.8 350.0,1012.9 350.2,1012.9 350.5,1012.8 350.8,1012.7 351.0,1012.6 351.2,1012.6 351.5,1012.5 351.8,1012.7 352.0,1012.8 352.2,1012.9 352.5,1012.8 352.8,1012.6 353.0,1012.3 353.2,1012.1 353.5,1012.0 353.8,1012.0 354.0,1012.1 354.2,1012.1 354.5,1012.2 354.8,1012.3 355.0,1012.3 355.2,1012.2 355.5,1012.0 355.8,1012.1 356.0,1012.4 356.2,1012.7 356.5,1013.0 356.8,1013.1 357.0,1013.1 357.2,1013.1 357.5,1013.0 357.8,1013.0 358.0,1013.0 358.2,1013.0 358.5,1013.0 358.8,1012.9 359.0,1012.8 359.2,1012.8 359.5,1012.7 359.8,1012.8 360.0,1012.8 360.2,1012.8 360.5,1012.6 360.8,1012.4 361.0,1012.8 361.2,1013.3 361.5,1013.9 361.8,1013.9 362.0,1013.8 362.2,1013.7 362.5,1013.6 362.8,1013.5 363.0,1013.4 363.2,1013.4 363.5,1013.3 363.8,1013.4 364.0,1013.5 364.2,1013.6 364.5,1013.7 364.8,1013.3 365.0,1012.9 365.2,1012.9 365.5,1013.0 365.8,1013.2 366.0,1013.3 366.2,1013.2 366.5,1013.1 366.8,1013.1 367.0,1013.0 367.2,1013.0 367.5,1013.0 367.8,1013.0 368.0,1013.0 368.2,1013.1 368.5,1013.1 368.8,1013.2 369.0,1013.2 369.2,1013.2 369.5,1013.0 369.8,1012.7 370.0,1012.4 370.2,1012.5 370.5,1013.0 370.8,1013.5 371.0,1013.7 371.2,1013.4 371.5,1013.1 371.8,1012.7 372.0,1012.4 372.2,1012.6 372.5,1012.8 372.8,1013.1 373.0,1013.0 373.2,1012.9 373.5,1012.8 373.8,1012.8 374.0,1012.7 374.2,1012.7 374.5,1012.6 374.8,1012.6 375.0,1012.6 375.2,1012.6 375.5,1012.6 375.8,1012.6 376.0,1012.6 376.2,1012.6 376.5,1012.7 376.8,1012.8 377.0,1012.8 377.2,1013.0 377.5,1013.2 377.8,1013.4 378.0,1013.4 378.2,1013.4 378.5,1013.4 378.8,1013.4 379.0,1013.3 379.2,1013.1 379.5,1012.9 379.8,1012.8 380.0,1013.2 380.2,1013.6 380.5,1014.0 380.8,1013.8 381.0,1013.2 381.2,1012.9 381.5,1013.0 381.8,1013.1 382.0,1013.2 382.2,1013.2 382.5,1013.2 382.8,1013.1 383.0,1013.1 383.2,1013.1 383.5,1013.2 383.8,1013.2 384.0,1013.3 384.2,1013.1 384.5,1012.7 384.8,1012.4 385.0,1012.4 385.2,1012.6 385.5,1012.7 385.8,1012.7 386.0,1012.5 386.2,1012.3 386.5,1012.4 386.8,1012.6 387.0,1012.7 387.2,1012.9 387.5,1013.0 387.8,1013.0 388.0,1012.9 388.2,1013.1 388.5,1013.2 388.8,1013.4 389.0,1013.3 389.2,1013.2 389.5,1013.1 389.8,1013.0 390.0,1013.0 390.2,1013.3 390.5,1013.5 390.8,1013.3 391.0,1013.2 391.2,1013.1 391.5,1013.0 391.8,1013.3 392.0,1013.6 392.2,1014.0 392.5,1014.0 392.8,1013.5 393.0,1012.9 393.2,1013.0 393.5,1013.2 393.8,1013.3 394.0,1013.3 394.2,1013.0 394.5,1012.7 394.8,1012.4 395.0,1012.6 395.2,1012.8 395.5,1013.0 395.8,1013.3 396.0,1013.5 396.2,1013.7 396.5,1013.9 396.8,1014.2 397.0,1013.2 397.2,1011.9 397.5,1012.3 397.8,1012.7 398.0,1013.1 398.2,1013.6 398.5,1013.5 398.8,1013.4 399.0,1013.2 399.2,1013.1 399.5,1013.1 399.8,1013.0 400.0,1012.9 400.2,1012.9 400.5,1013.2 400.8,1013.5 401.0,1013.5 401.2,1013.2 401.5,1012.8 401.8,1012.5 402.0,1012.5 402.2,1012.6 402.5,1012.6 402.8,1012.7 403.0,1012.8 403.2,1012.8 403.5,1012.9 403.8,1013.3 404.0,1013.6 404.2,1013.5 404.5,1013.2 404.8,1012.9 405.0,1012.6 405.2,1012.5 405.5,1012.7 405.8,1012.9 406.0,1013.1 406.2,1013.1 406.5,1013.1 406.8,1013.0 407.0,1013.0 407.2,1013.0 407.5,1013.0 407.8,1013.1 408.0,1013.3 408.2,1013.5 408.5,1013.4 408.8,1013.1 409.0,1012.8 409.2,1012.5 409.5,1012.4 409.8,1012.5 410.0,1012.6 410.2,1012.7 410.5,1012.7 410.8,1012.7 411.0,1012.7 411.2,1012.8 411.5,1013.1 411.8,1013.4 412.0,1013.6 412.2,1013.7 412.5,1013.9 412.8,1014.0 413.0,1013.7 413.2,1013.5 413.5,1013.2 413.8,1013.2 414.0,1013.3 414.2,1013.3 414.5,1013.3 414.8,1013.3 415.0,1013.3 415.2,1013.2 415.5,1013.1 415.8,1013.0 416.0,1012.9 416.2,1012.9 416.5,1012.9 416.8,1012.8 417.0,1012.8 417.2,1012.7 417.5,1012.6 417.8,1012.5 418.0,1012.8 418.2,1013.3 418.5,1013.9 418.8,1014.1 419.0,1013.7 419.2,1013.2 419.5,1013.0 419.8,1013.0 420.0,1013.0 420.2,1013.0 420.5,1013.0 420.8,1013.0 421.0,1013.1 421.2,1013.1 421.5,1013.1 421.8,1013.0 422.0,1012.9 422.2,1012.8 422.5,1012.8 422.8,1012.8 423.0,1012.7 423.2,1012.8 423.5,1013.0 423.8,1013.1 424.0,1013.1 424.2,1013.2 424.5,1013.3 424.8,1013.2 425.0,1013.1 425.2,1013.0 425.5,1012.9 425.8,1013.0 426.0,1013.2 426.2,1013.4 426.5,1013.7 426.8,1013.3 427.0,1012.8 427.2,1012.3 427.5,1012.4 427.8,1012.8 428.0,1013.2 428.2,1013.3 428.5,1013.4 428.8,1013.5 429.0,1013.6 429.2,1013.5 429.5,1013.2 429.8,1013.0 430.0,1012.8 430.2,1012.6 430.5,1012.4 430.8,1012.6 431.0,1012.9 431.2,1013.2 431.5,1013.0 431.8,1012.9 432.0,1012.7 432.2,1012.6 432.5,1012.8 432.8,1013.0 433.0,1013.3 433.2,1013.4 433.5,1013.5 433.8,1013.7 434.0,1013.8 434.2,1013.8" fill="none" stroke="#f0890f" stroke-width="1.75" stroke-linejoin="round" stroke-linecap="round"/>
<rect x="59.7" y="718.6" width="390.70" height="310.80" fill="none" stroke="#000" stroke-width="1.3"/>
<line x1="71.95" y1="1029.4" x2="71.95" y2="1023.8000000000001" stroke="#000" stroke-width="1.15"/>
<text transform="translate(71.15,1048.10) scale(0.925,1)" font-size="18.0" text-anchor="middle" fill="#000" stroke="#000" stroke-width="0.22">–2000</text>
<line x1="118.15" y1="1029.4" x2="118.15" y2="1023.8000000000001" stroke="#000" stroke-width="1.15"/>
<line x1="164.35" y1="1029.4" x2="164.35" y2="1023.8000000000001" stroke="#000" stroke-width="1.15"/>
<text transform="translate(163.55,1048.10) scale(0.925,1)" font-size="18.0" text-anchor="middle" fill="#000" stroke="#000" stroke-width="0.22">–1000</text>
<line x1="210.55" y1="1029.4" x2="210.55" y2="1023.8000000000001" stroke="#000" stroke-width="1.15"/>
<line x1="256.75" y1="1029.4" x2="256.75" y2="1023.8000000000001" stroke="#000" stroke-width="1.15"/>
<text transform="translate(257.65,1048.10) scale(0.925,1)" font-size="18.0" text-anchor="middle" fill="#000" stroke="#000" stroke-width="0.22">0</text>
<line x1="302.95" y1="1029.4" x2="302.95" y2="1023.8000000000001" stroke="#000" stroke-width="1.15"/>
<line x1="349.15" y1="1029.4" x2="349.15" y2="1023.8000000000001" stroke="#000" stroke-width="1.15"/>
<text transform="translate(349.15,1048.10) scale(0.925,1)" font-size="18.0" text-anchor="middle" fill="#000" stroke="#000" stroke-width="0.22">1000</text>
<line x1="395.35" y1="1029.4" x2="395.35" y2="1023.8000000000001" stroke="#000" stroke-width="1.15"/>
<line x1="441.55" y1="1029.4" x2="441.55" y2="1023.8000000000001" stroke="#000" stroke-width="1.15"/>
<text transform="translate(441.55,1048.10) scale(0.925,1)" font-size="18.0" text-anchor="middle" fill="#000" stroke="#000" stroke-width="0.22">2000</text>
<line x1="59.7" y1="1018.20" x2="65.3" y2="1018.20" stroke="#000" stroke-width="1.15"/>
<text transform="translate(55.10,1024.20) scale(0.925,1)" font-size="18.0" text-anchor="end" fill="#000" stroke="#000" stroke-width="0.22">0</text>
<line x1="59.7" y1="977.95" x2="65.3" y2="977.95" stroke="#000" stroke-width="1.15"/>
<text transform="translate(55.10,983.95) scale(0.925,1)" font-size="18.0" text-anchor="end" fill="#000" stroke="#000" stroke-width="0.22">500</text>
<line x1="59.7" y1="937.69" x2="65.3" y2="937.69" stroke="#000" stroke-width="1.15"/>
<text transform="translate(55.10,943.69) scale(0.925,1)" font-size="18.0" text-anchor="end" fill="#000" stroke="#000" stroke-width="0.22">1000</text>
<line x1="59.7" y1="897.44" x2="65.3" y2="897.44" stroke="#000" stroke-width="1.15"/>
<text transform="translate(55.10,903.44) scale(0.925,1)" font-size="18.0" text-anchor="end" fill="#000" stroke="#000" stroke-width="0.22">1500</text>
<line x1="59.7" y1="857.18" x2="65.3" y2="857.18" stroke="#000" stroke-width="1.15"/>
<text transform="translate(55.10,863.18) scale(0.925,1)" font-size="18.0" text-anchor="end" fill="#000" stroke="#000" stroke-width="0.22">2000</text>
<line x1="59.7" y1="816.93" x2="65.3" y2="816.93" stroke="#000" stroke-width="1.15"/>
<text transform="translate(55.10,822.93) scale(0.925,1)" font-size="18.0" text-anchor="end" fill="#000" stroke="#000" stroke-width="0.22">2500</text>
<line x1="59.7" y1="776.67" x2="65.3" y2="776.67" stroke="#000" stroke-width="1.15"/>
<text transform="translate(55.10,782.67) scale(0.925,1)" font-size="18.0" text-anchor="end" fill="#000" stroke="#000" stroke-width="0.22">3000</text>
<line x1="59.7" y1="736.42" x2="65.3" y2="736.42" stroke="#000" stroke-width="1.15"/>
<text transform="translate(55.10,742.42) scale(0.925,1)" font-size="18.0" text-anchor="end" fill="#000" stroke="#000" stroke-width="0.22">3500</text>
<line x1="403" y1="739.4" x2="426.2" y2="739.4" stroke="#4a7dbd" stroke-width="2"/>
<line x1="403" y1="756.7" x2="426.2" y2="756.7" stroke="#f0890f" stroke-width="1.9"/>
<text transform="translate(433.70,743.60) scale(1.085,1)" font-size="16.6" text-anchor="start" fill="#000" stroke="#000" stroke-width="0.22" font-style="italic">x</text>
<text transform="translate(433.70,760.40) scale(1.085,1)" font-size="16.6" text-anchor="start" fill="#000" stroke="#000" stroke-width="0.22" font-style="italic">y</text>
<text transform="translate(87.30,748.00) scale(1,1)" font-size="16.5" text-anchor="start" fill="#000" stroke="#000" stroke-width="0.22">c</text>
<text transform="translate(220.40,741.50) scale(0.925,1)" font-size="18.0" text-anchor="start" fill="#000" stroke="#000" stroke-width="0.22" font-style="italic">1</text>
<text transform="translate(205.80,806.00) scale(0.925,1)" font-size="18.0" text-anchor="start" fill="#000" stroke="#000" stroke-width="0.22" font-style="italic">2</text>
<text transform="translate(343.20,1069.70) scale(1.085,1)" font-size="16.6" text-anchor="start" fill="#000" stroke="#000" stroke-width="0.22">Distance/μm</text>
<text transform="translate(12.1,818.8) rotate(-90) scale(1.115,1)" font-size="16.0" text-anchor="middle" fill="#000" stroke="#000" stroke-width="0.22">Intensity (arb. units)</text>
</svg>
</body></html>
